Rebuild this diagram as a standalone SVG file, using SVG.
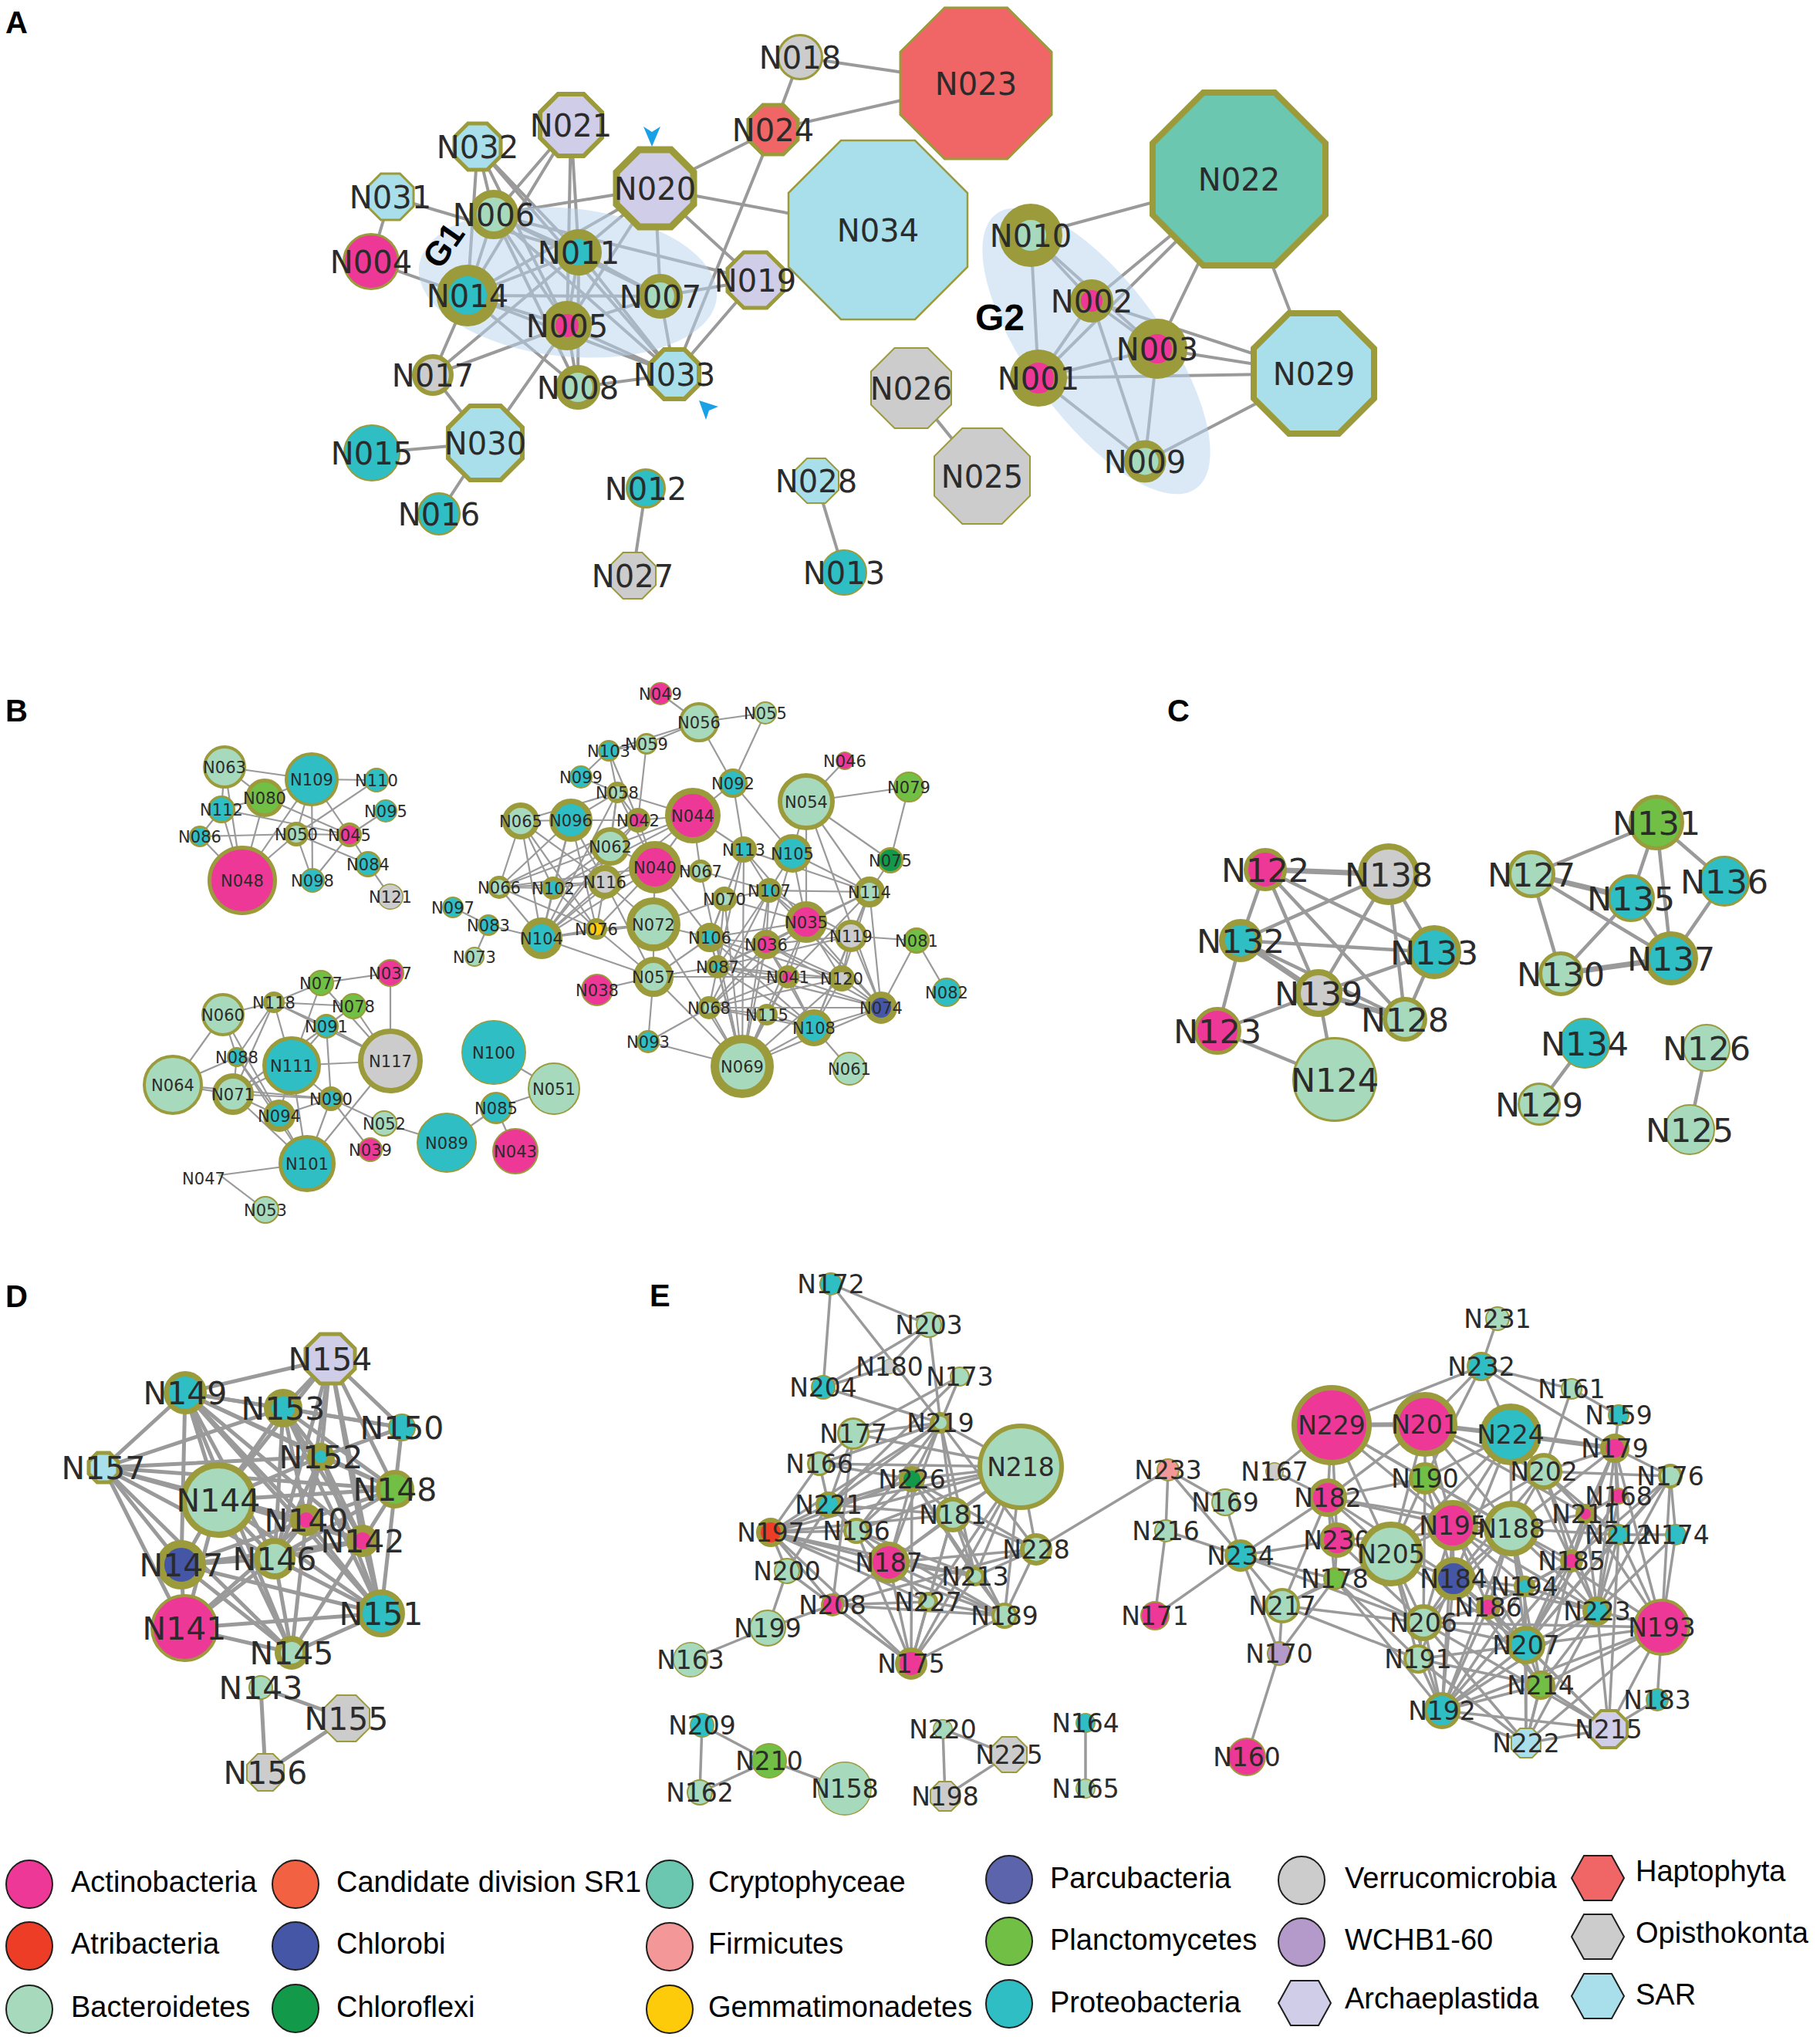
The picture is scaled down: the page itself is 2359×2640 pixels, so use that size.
<svg xmlns="http://www.w3.org/2000/svg" width="2359" height="2640" viewBox="0 0 2359 2640">
<style>
.ea{stroke:#9a9a9a;stroke-width:4;stroke-linecap:round}
.eb{stroke:#9a9a9a;stroke-width:2.2;stroke-linecap:round}
.ec{stroke:#9a9a9a;stroke-width:4.5;stroke-linecap:round}
.ed{stroke:#9a9a9a;stroke-width:5;stroke-linecap:round}
.ee{stroke:#9a9a9a;stroke-width:3.5;stroke-linecap:round}
.n{stroke:#9b9b3b}
.act{fill:#ee3897}.atr{fill:#ee3d26}.bac{fill:#a7d9bd}.sr1{fill:#f26242}.chb{fill:#4556a6}.chf{fill:#12994a}
.cry{fill:#6bc7b0}.fir{fill:#f39799}.gem{fill:#fecb0a}.par{fill:#5c64ab}.pla{fill:#72bf45}.pro{fill:#2ebec4}
.ver{fill:#cccccc}.wch{fill:#b49aca}.arc{fill:#cfcde8}.hap{fill:#f06667}.opi{fill:#cccccc}.sar{fill:#a8dfea}
.ta{font-family:"DejaVu Sans",sans-serif;font-size:40px;fill:#2b2b2b;text-anchor:middle}
.tb{font-family:"DejaVu Sans",sans-serif;font-size:21px;fill:#2b2b2b;text-anchor:middle}
.tc{font-family:"DejaVu Sans",sans-serif;font-size:43px;fill:#2b2b2b;text-anchor:middle}
.td{font-family:"DejaVu Sans",sans-serif;font-size:41px;fill:#2b2b2b;text-anchor:middle}
.te{font-family:"DejaVu Sans",sans-serif;font-size:33px;fill:#2b2b2b;text-anchor:middle}
.pl{font-family:"Liberation Sans",Arial,sans-serif;font-size:40px;font-weight:bold;fill:#000}
.gl{font-family:"Liberation Sans",Arial,sans-serif;font-weight:bold;fill:#000;text-anchor:middle}
.lg{font-family:"Liberation Sans",Arial,sans-serif;font-size:38px;fill:#000}
.lc{stroke:#1e1e1e;stroke-width:2}
</style>
<rect width="2359" height="2640" fill="#fff"/>

<g id="panel-labels">
<text class="pl" x="7" y="43">A</text>
<text class="pl" x="7" y="935">B</text>
<text class="pl" x="1513" y="935">C</text>
<text class="pl" x="7" y="1694">D</text>
<text class="pl" x="842" y="1693">E</text>
</g>

<g id="connectors">
<g class="ea">
<line x1="506" y1="255" x2="481" y2="339"/><line x1="506" y1="255" x2="750" y2="327"/><line x1="481" y1="339" x2="606" y2="383"/>
<line x1="619" y1="190" x2="640" y2="278"/><line x1="619" y1="190" x2="750" y2="327"/><line x1="619" y1="190" x2="606" y2="383"/>
<line x1="619" y1="190" x2="735" y2="422"/><line x1="619" y1="190" x2="874" y2="485"/><line x1="640" y1="278" x2="979" y2="363"/>
<line x1="740" y1="162" x2="640" y2="278"/><line x1="740" y1="162" x2="750" y2="327"/><line x1="740" y1="162" x2="606" y2="383"/>
<line x1="740" y1="162" x2="735" y2="422"/><line x1="849" y1="244" x2="640" y2="278"/><line x1="849" y1="244" x2="1002" y2="168"/>
<line x1="849" y1="244" x2="1138" y2="298"/><line x1="849" y1="244" x2="979" y2="363"/><line x1="849" y1="244" x2="750" y2="327"/>
<line x1="849" y1="244" x2="606" y2="383"/><line x1="849" y1="244" x2="856" y2="384"/><line x1="849" y1="244" x2="735" y2="422"/>
<line x1="1002" y1="168" x2="1037" y2="74"/><line x1="1002" y1="168" x2="1265" y2="108"/><line x1="1002" y1="168" x2="874" y2="485"/>
<line x1="1037" y1="74" x2="1265" y2="108"/>
<line x1="640" y1="278" x2="750" y2="327"/><line x1="640" y1="278" x2="606" y2="383"/><line x1="640" y1="278" x2="856" y2="384"/>
<line x1="640" y1="278" x2="735" y2="422"/><line x1="640" y1="278" x2="749" y2="502"/><line x1="640" y1="278" x2="874" y2="485"/>
<line x1="750" y1="327" x2="606" y2="383"/><line x1="750" y1="327" x2="856" y2="384"/><line x1="750" y1="327" x2="735" y2="422"/>
<line x1="750" y1="327" x2="749" y2="502"/><line x1="750" y1="327" x2="874" y2="485"/><line x1="750" y1="327" x2="561" y2="486"/>
<line x1="606" y1="383" x2="856" y2="384"/><line x1="606" y1="383" x2="735" y2="422"/><line x1="606" y1="383" x2="749" y2="502"/>
<line x1="606" y1="383" x2="874" y2="485"/><line x1="606" y1="383" x2="561" y2="486"/>
<line x1="856" y1="384" x2="735" y2="422"/><line x1="856" y1="384" x2="874" y2="485"/><line x1="856" y1="384" x2="979" y2="363"/>
<line x1="735" y1="422" x2="749" y2="502"/><line x1="735" y1="422" x2="874" y2="485"/><line x1="735" y1="422" x2="561" y2="486"/>
<line x1="735" y1="422" x2="629" y2="574"/><line x1="749" y1="502" x2="874" y2="485"/><line x1="561" y1="486" x2="629" y2="574"/>
<line x1="482" y1="587" x2="629" y2="574"/><line x1="569" y1="666" x2="629" y2="574"/><line x1="979" y1="363" x2="874" y2="485"/>
<line x1="837" y1="633" x2="820" y2="746"/><line x1="1058" y1="623" x2="1094" y2="742"/><line x1="1181" y1="503" x2="1273" y2="617"/>
<line x1="1336" y1="305" x2="1606" y2="232"/><line x1="1336" y1="305" x2="1415" y2="390"/><line x1="1336" y1="305" x2="1346" y2="490"/>
<line x1="1336" y1="305" x2="1500" y2="452"/><line x1="1415" y1="390" x2="1606" y2="232"/><line x1="1500" y1="452" x2="1606" y2="232"/>
<line x1="1346" y1="490" x2="1606" y2="232"/><line x1="1606" y1="232" x2="1703" y2="484"/><line x1="1500" y1="452" x2="1703" y2="484"/>
<line x1="1415" y1="390" x2="1703" y2="484"/><line x1="1346" y1="490" x2="1703" y2="484"/><line x1="1346" y1="490" x2="1415" y2="390"/>
<line x1="1346" y1="490" x2="1500" y2="452"/><line x1="1346" y1="490" x2="1484" y2="598"/><line x1="1415" y1="390" x2="1484" y2="598"/>
<line x1="1500" y1="452" x2="1484" y2="598"/><line x1="1484" y1="598" x2="1703" y2="484"/><line x1="1415" y1="390" x2="1500" y2="452"/>
</g>
<g class="eb">
<line x1="291" y1="994" x2="404" y2="1010"/><line x1="291" y1="994" x2="343" y2="1034"/><line x1="291" y1="994" x2="287" y2="1049"/>
<line x1="291" y1="994" x2="314" y2="1141"/><line x1="404" y1="1010" x2="488" y2="1011"/><line x1="404" y1="1010" x2="343" y2="1034"/>
<line x1="404" y1="1010" x2="384" y2="1081"/><line x1="404" y1="1010" x2="314" y2="1141"/><line x1="404" y1="1010" x2="453" y2="1082"/>
<line x1="404" y1="1010" x2="405" y2="1141"/><line x1="343" y1="1034" x2="287" y2="1049"/><line x1="343" y1="1034" x2="314" y2="1141"/>
<line x1="343" y1="1034" x2="453" y2="1082"/><line x1="287" y1="1049" x2="259" y2="1084"/><line x1="287" y1="1049" x2="314" y2="1141"/>
<line x1="287" y1="1049" x2="453" y2="1082"/><line x1="259" y1="1084" x2="384" y2="1081"/><line x1="259" y1="1084" x2="314" y2="1141"/>
<line x1="384" y1="1081" x2="453" y2="1082"/><line x1="384" y1="1081" x2="405" y2="1141"/><line x1="384" y1="1081" x2="314" y2="1141"/>
<line x1="384" y1="1081" x2="477" y2="1120"/><line x1="488" y1="1011" x2="384" y2="1081"/><line x1="453" y1="1082" x2="500" y2="1051"/>
<line x1="453" y1="1082" x2="477" y2="1120"/><line x1="453" y1="1082" x2="405" y2="1141"/><line x1="477" y1="1120" x2="506" y2="1162"/>
<line x1="506" y1="1261" x2="416" y2="1274"/><line x1="506" y1="1261" x2="506" y2="1375"/><line x1="416" y1="1274" x2="355" y2="1299"/>
<line x1="416" y1="1274" x2="378" y2="1381"/><line x1="416" y1="1274" x2="506" y2="1375"/><line x1="355" y1="1299" x2="458" y2="1304"/>
<line x1="355" y1="1299" x2="289" y2="1315"/><line x1="355" y1="1299" x2="423" y2="1330"/><line x1="355" y1="1299" x2="307" y2="1370"/>
<line x1="355" y1="1299" x2="378" y2="1381"/><line x1="355" y1="1299" x2="302" y2="1418"/><line x1="355" y1="1299" x2="506" y2="1375"/>
<line x1="458" y1="1304" x2="423" y2="1330"/><line x1="458" y1="1304" x2="506" y2="1375"/><line x1="289" y1="1315" x2="224" y2="1406"/>
<line x1="289" y1="1315" x2="307" y2="1370"/><line x1="289" y1="1315" x2="362" y2="1446"/><line x1="423" y1="1330" x2="378" y2="1381"/>
<line x1="423" y1="1330" x2="429" y2="1424"/><line x1="423" y1="1330" x2="506" y2="1375"/><line x1="423" y1="1330" x2="302" y2="1418"/>
<line x1="307" y1="1370" x2="302" y2="1418"/><line x1="307" y1="1370" x2="224" y2="1406"/><line x1="307" y1="1370" x2="398" y2="1508"/>
<line x1="307" y1="1370" x2="362" y2="1446"/><line x1="378" y1="1381" x2="506" y2="1375"/><line x1="378" y1="1381" x2="302" y2="1418"/>
<line x1="378" y1="1381" x2="362" y2="1446"/><line x1="378" y1="1381" x2="429" y2="1424"/><line x1="378" y1="1381" x2="398" y2="1508"/>
<line x1="224" y1="1406" x2="302" y2="1418"/><line x1="224" y1="1406" x2="429" y2="1424"/><line x1="302" y1="1418" x2="362" y2="1446"/>
<line x1="302" y1="1418" x2="429" y2="1424"/><line x1="302" y1="1418" x2="398" y2="1508"/><line x1="362" y1="1446" x2="429" y2="1424"/>
<line x1="362" y1="1446" x2="398" y2="1508"/><line x1="429" y1="1424" x2="398" y2="1508"/><line x1="429" y1="1424" x2="498" y2="1456"/>
<line x1="429" y1="1424" x2="480" y2="1490"/><line x1="506" y1="1375" x2="398" y2="1508"/><line x1="498" y1="1456" x2="579" y2="1481"/>
<line x1="398" y1="1508" x2="285" y2="1523"/><line x1="285" y1="1523" x2="344" y2="1568"/><line x1="579" y1="1481" x2="643" y2="1436"/>
<line x1="643" y1="1436" x2="718" y2="1411"/><line x1="643" y1="1436" x2="668" y2="1492"/><line x1="640" y1="1364" x2="718" y2="1411"/>
<line x1="856" y1="899" x2="906" y2="936"/><line x1="906" y1="936" x2="992" y2="924"/><line x1="906" y1="936" x2="838" y2="964"/>
<line x1="906" y1="936" x2="789" y2="973"/><line x1="906" y1="936" x2="950" y2="1015"/><line x1="992" y1="924" x2="950" y2="1015"/>
<line x1="838" y1="964" x2="789" y2="973"/><line x1="838" y1="964" x2="827" y2="1063"/><line x1="789" y1="973" x2="753" y2="1007"/>
<line x1="789" y1="973" x2="800" y2="1027"/><line x1="789" y1="973" x2="827" y2="1063"/><line x1="753" y1="1007" x2="800" y2="1027"/>
<line x1="800" y1="1027" x2="740" y2="1063"/><line x1="800" y1="1027" x2="675" y2="1064"/><line x1="800" y1="1027" x2="791" y2="1097"/>
<line x1="800" y1="1027" x2="827" y2="1063"/><line x1="800" y1="1027" x2="898" y2="1057"/><line x1="800" y1="1027" x2="849" y2="1124"/>
<line x1="800" y1="1027" x2="702" y2="1216"/><line x1="800" y1="1027" x2="784" y2="1143"/><line x1="950" y1="1015" x2="898" y2="1057"/>
<line x1="950" y1="1015" x2="964" y2="1101"/><line x1="950" y1="1015" x2="1027" y2="1106"/><line x1="1095" y1="986" x2="1045" y2="1039"/>
<line x1="1045" y1="1039" x2="1178" y2="1020"/><line x1="1045" y1="1039" x2="1027" y2="1106"/><line x1="1045" y1="1039" x2="1154" y2="1115"/>
<line x1="1045" y1="1039" x2="1127" y2="1156"/><line x1="1045" y1="1039" x2="1045" y2="1195"/><line x1="1045" y1="1039" x2="1142" y2="1306"/>
<line x1="1178" y1="1020" x2="1154" y2="1115"/><line x1="675" y1="1064" x2="740" y2="1063"/><line x1="675" y1="1064" x2="647" y2="1150"/>
<line x1="675" y1="1064" x2="702" y2="1216"/><line x1="675" y1="1064" x2="784" y2="1143"/><line x1="675" y1="1064" x2="773" y2="1204"/>
<line x1="675" y1="1064" x2="717" y2="1151"/><line x1="740" y1="1063" x2="827" y2="1063"/><line x1="740" y1="1063" x2="647" y2="1150"/>
<line x1="740" y1="1063" x2="702" y2="1216"/><line x1="740" y1="1063" x2="784" y2="1143"/><line x1="740" y1="1063" x2="717" y2="1151"/>
<line x1="740" y1="1063" x2="773" y2="1204"/><line x1="827" y1="1063" x2="898" y2="1057"/><line x1="827" y1="1063" x2="791" y2="1097"/>
<line x1="827" y1="1063" x2="849" y2="1124"/><line x1="827" y1="1063" x2="702" y2="1216"/><line x1="827" y1="1063" x2="647" y2="1150"/>
<line x1="898" y1="1057" x2="849" y2="1124"/><line x1="898" y1="1057" x2="964" y2="1101"/><line x1="898" y1="1057" x2="791" y2="1097"/>
<line x1="898" y1="1057" x2="717" y2="1151"/><line x1="898" y1="1057" x2="908" y2="1129"/><line x1="898" y1="1057" x2="702" y2="1216"/>
<line x1="791" y1="1097" x2="647" y2="1150"/><line x1="791" y1="1097" x2="702" y2="1216"/><line x1="791" y1="1097" x2="784" y2="1143"/>
<line x1="791" y1="1097" x2="849" y2="1124"/><line x1="791" y1="1097" x2="717" y2="1151"/><line x1="849" y1="1124" x2="784" y2="1143"/>
<line x1="849" y1="1124" x2="702" y2="1216"/><line x1="849" y1="1124" x2="847" y2="1198"/><line x1="849" y1="1124" x2="908" y2="1129"/>
<line x1="849" y1="1124" x2="920" y2="1215"/><line x1="849" y1="1124" x2="773" y2="1204"/><line x1="849" y1="1124" x2="647" y2="1150"/>
<line x1="908" y1="1129" x2="997" y2="1154"/><line x1="908" y1="1129" x2="962" y2="1382"/><line x1="964" y1="1101" x2="997" y2="1154"/>
<line x1="964" y1="1101" x2="939" y2="1165"/><line x1="964" y1="1101" x2="1045" y2="1195"/><line x1="964" y1="1101" x2="920" y2="1215"/>
<line x1="964" y1="1101" x2="962" y2="1382"/><line x1="964" y1="1101" x2="1127" y2="1156"/><line x1="964" y1="1101" x2="930" y2="1253"/>
<line x1="1027" y1="1106" x2="997" y2="1154"/><line x1="1027" y1="1106" x2="1127" y2="1156"/><line x1="1027" y1="1106" x2="1045" y2="1195"/>
<line x1="1027" y1="1106" x2="993" y2="1224"/><line x1="1154" y1="1115" x2="1127" y2="1156"/><line x1="647" y1="1150" x2="717" y2="1151"/>
<line x1="647" y1="1150" x2="702" y2="1216"/><line x1="647" y1="1150" x2="784" y2="1143"/><line x1="647" y1="1150" x2="773" y2="1204"/>
<line x1="717" y1="1151" x2="784" y2="1143"/><line x1="717" y1="1151" x2="702" y2="1216"/><line x1="717" y1="1151" x2="773" y2="1204"/>
<line x1="784" y1="1143" x2="702" y2="1216"/><line x1="784" y1="1143" x2="773" y2="1204"/><line x1="784" y1="1143" x2="847" y2="1198"/>
<line x1="784" y1="1143" x2="847" y2="1266"/><line x1="702" y1="1216" x2="633" y2="1199"/><line x1="702" y1="1216" x2="773" y2="1204"/>
<line x1="702" y1="1216" x2="847" y2="1266"/><line x1="702" y1="1216" x2="847" y2="1198"/><line x1="633" y1="1199" x2="587" y2="1176"/>
<line x1="633" y1="1199" x2="615" y2="1240"/><line x1="773" y1="1204" x2="847" y2="1198"/><line x1="773" y1="1204" x2="847" y2="1266"/>
<line x1="847" y1="1198" x2="920" y2="1215"/><line x1="847" y1="1198" x2="847" y2="1266"/><line x1="847" y1="1198" x2="962" y2="1382"/>
<line x1="847" y1="1198" x2="939" y2="1165"/><line x1="939" y1="1165" x2="997" y2="1154"/><line x1="939" y1="1165" x2="1045" y2="1195"/>
<line x1="939" y1="1165" x2="920" y2="1215"/><line x1="939" y1="1165" x2="930" y2="1253"/><line x1="939" y1="1165" x2="962" y2="1382"/>
<line x1="997" y1="1154" x2="1127" y2="1156"/><line x1="997" y1="1154" x2="1045" y2="1195"/><line x1="997" y1="1154" x2="993" y2="1224"/>
<line x1="997" y1="1154" x2="1103" y2="1213"/><line x1="997" y1="1154" x2="1142" y2="1306"/><line x1="997" y1="1154" x2="962" y2="1382"/>
<line x1="997" y1="1154" x2="930" y2="1253"/><line x1="997" y1="1154" x2="919" y2="1306"/><line x1="1127" y1="1156" x2="1045" y2="1195"/>
<line x1="1127" y1="1156" x2="1103" y2="1213"/><line x1="1127" y1="1156" x2="1091" y2="1268"/><line x1="1127" y1="1156" x2="1142" y2="1306"/>
<line x1="1127" y1="1156" x2="1055" y2="1332"/><line x1="1127" y1="1156" x2="1021" y2="1266"/><line x1="1127" y1="1156" x2="993" y2="1224"/>
<line x1="1127" y1="1156" x2="930" y2="1253"/><line x1="1045" y1="1195" x2="1103" y2="1213"/><line x1="1045" y1="1195" x2="993" y2="1224"/>
<line x1="1045" y1="1195" x2="1021" y2="1266"/><line x1="1045" y1="1195" x2="1091" y2="1268"/><line x1="1045" y1="1195" x2="920" y2="1215"/>
<line x1="1045" y1="1195" x2="919" y2="1306"/><line x1="1045" y1="1195" x2="1142" y2="1306"/><line x1="1045" y1="1195" x2="962" y2="1382"/>
<line x1="1103" y1="1213" x2="1188" y2="1219"/><line x1="1103" y1="1213" x2="1091" y2="1268"/><line x1="1103" y1="1213" x2="1142" y2="1306"/>
<line x1="1103" y1="1213" x2="993" y2="1224"/><line x1="1103" y1="1213" x2="930" y2="1253"/><line x1="1103" y1="1213" x2="1055" y2="1332"/>
<line x1="1188" y1="1219" x2="1227" y2="1286"/><line x1="1188" y1="1219" x2="1142" y2="1306"/><line x1="920" y1="1215" x2="993" y2="1224"/>
<line x1="920" y1="1215" x2="930" y2="1253"/><line x1="920" y1="1215" x2="1021" y2="1266"/><line x1="920" y1="1215" x2="962" y2="1382"/>
<line x1="920" y1="1215" x2="1091" y2="1268"/><line x1="920" y1="1215" x2="847" y2="1266"/><line x1="920" y1="1215" x2="1055" y2="1332"/>
<line x1="993" y1="1224" x2="930" y2="1253"/><line x1="993" y1="1224" x2="1021" y2="1266"/><line x1="993" y1="1224" x2="1091" y2="1268"/>
<line x1="993" y1="1224" x2="1055" y2="1332"/><line x1="993" y1="1224" x2="919" y2="1306"/><line x1="993" y1="1224" x2="962" y2="1382"/>
<line x1="993" y1="1224" x2="1142" y2="1306"/><line x1="847" y1="1266" x2="774" y2="1283"/><line x1="847" y1="1266" x2="930" y2="1253"/>
<line x1="847" y1="1266" x2="840" y2="1350"/><line x1="847" y1="1266" x2="1021" y2="1266"/><line x1="847" y1="1266" x2="962" y2="1382"/>
<line x1="930" y1="1253" x2="1021" y2="1266"/><line x1="930" y1="1253" x2="919" y2="1306"/><line x1="930" y1="1253" x2="962" y2="1382"/>
<line x1="930" y1="1253" x2="1091" y2="1268"/><line x1="930" y1="1253" x2="1055" y2="1332"/><line x1="930" y1="1253" x2="1142" y2="1306"/>
<line x1="1021" y1="1266" x2="1091" y2="1268"/><line x1="1021" y1="1266" x2="1055" y2="1332"/><line x1="1021" y1="1266" x2="962" y2="1382"/>
<line x1="1021" y1="1266" x2="919" y2="1306"/><line x1="1021" y1="1266" x2="994" y2="1315"/><line x1="1021" y1="1266" x2="1142" y2="1306"/>
<line x1="1091" y1="1268" x2="1142" y2="1306"/><line x1="1091" y1="1268" x2="1055" y2="1332"/><line x1="1091" y1="1268" x2="919" y2="1306"/>
<line x1="1091" y1="1268" x2="962" y2="1382"/><line x1="919" y1="1306" x2="840" y2="1350"/><line x1="919" y1="1306" x2="962" y2="1382"/>
<line x1="919" y1="1306" x2="1055" y2="1332"/><line x1="919" y1="1306" x2="1142" y2="1306"/><line x1="994" y1="1315" x2="962" y2="1382"/>
<line x1="994" y1="1315" x2="1055" y2="1332"/><line x1="994" y1="1315" x2="919" y2="1306"/><line x1="1055" y1="1332" x2="1142" y2="1306"/>
<line x1="1055" y1="1332" x2="1101" y2="1385"/><line x1="1055" y1="1332" x2="962" y2="1382"/><line x1="1142" y1="1306" x2="962" y2="1382"/>
<line x1="840" y1="1350" x2="962" y2="1382"/>
</g>
<g class="ec">
<line x1="1640" y1="1127" x2="1800" y2="1133" stroke-width="7"/><line x1="1640" y1="1127" x2="1608" y2="1219"/><line x1="1640" y1="1127" x2="1709" y2="1287"/>
<line x1="1640" y1="1127" x2="1859" y2="1234"/><line x1="1640" y1="1127" x2="1821" y2="1321"/><line x1="1800" y1="1133" x2="1608" y2="1219"/>
<line x1="1800" y1="1133" x2="1709" y2="1287"/><line x1="1800" y1="1133" x2="1859" y2="1234"/><line x1="1800" y1="1133" x2="1821" y2="1321"/>
<line x1="1608" y1="1219" x2="1859" y2="1234"/><line x1="1608" y1="1219" x2="1709" y2="1287" stroke-width="7"/><line x1="1608" y1="1219" x2="1821" y2="1321"/>
<line x1="1608" y1="1219" x2="1578" y2="1336"/><line x1="1709" y1="1287" x2="1859" y2="1234"/><line x1="1709" y1="1287" x2="1821" y2="1321" stroke-width="7"/>
<line x1="1709" y1="1287" x2="1578" y2="1336"/><line x1="1709" y1="1287" x2="1730" y2="1399"/><line x1="1578" y1="1336" x2="1730" y2="1399"/>
<line x1="1859" y1="1234" x2="1821" y2="1321"/>
<line x1="1985" y1="1133" x2="2147" y2="1066"/><line x1="1985" y1="1133" x2="2114" y2="1164" stroke-width="7"/><line x1="1985" y1="1133" x2="2166" y2="1242"/>
<line x1="1985" y1="1133" x2="2023" y2="1262"/><line x1="2147" y1="1066" x2="2114" y2="1164"/><line x1="2147" y1="1066" x2="2166" y2="1242"/>
<line x1="2147" y1="1066" x2="2235" y2="1142"/><line x1="2114" y1="1164" x2="2166" y2="1242"/><line x1="2114" y1="1164" x2="2023" y2="1262"/>
<line x1="2235" y1="1142" x2="2166" y2="1242"/><line x1="2023" y1="1262" x2="2166" y2="1242" stroke-width="7"/>
<line x1="2054" y1="1352" x2="1995" y2="1431"/><line x1="2212" y1="1358" x2="2190" y2="1464"/>
</g>
<g class="ed">
<line x1="428" y1="1761" x2="240" y2="1805"/><line x1="428" y1="1761" x2="367" y2="1825"/><line x1="428" y1="1761" x2="521" y2="1850"/>
<line x1="428" y1="1761" x2="416" y2="1888"/><line x1="428" y1="1761" x2="512" y2="1930"/><line x1="428" y1="1761" x2="494" y2="2091"/>
<line x1="428" y1="1761" x2="470" y2="1997"/><line x1="428" y1="1761" x2="397" y2="1970"/><line x1="428" y1="1761" x2="356" y2="2020"/>
<line x1="428" y1="1761" x2="283" y2="1944"/><line x1="240" y1="1805" x2="367" y2="1825"/><line x1="240" y1="1805" x2="134" y2="1902"/>
<line x1="240" y1="1805" x2="283" y2="1944"/><line x1="240" y1="1805" x2="521" y2="1850"/><line x1="240" y1="1805" x2="416" y2="1888"/>
<line x1="240" y1="1805" x2="512" y2="1930"/><line x1="240" y1="1805" x2="397" y2="1970"/><line x1="240" y1="1805" x2="470" y2="1997"/>
<line x1="240" y1="1805" x2="356" y2="2020"/><line x1="240" y1="1805" x2="494" y2="2091"/><line x1="240" y1="1805" x2="235" y2="2028"/>
<line x1="240" y1="1805" x2="378" y2="2142"/><line x1="367" y1="1825" x2="134" y2="1902"/><line x1="367" y1="1825" x2="416" y2="1888"/>
<line x1="367" y1="1825" x2="512" y2="1930"/><line x1="367" y1="1825" x2="397" y2="1970"/><line x1="367" y1="1825" x2="470" y2="1997"/>
<line x1="367" y1="1825" x2="356" y2="2020"/><line x1="367" y1="1825" x2="494" y2="2091"/><line x1="367" y1="1825" x2="283" y2="1944"/>
<line x1="367" y1="1825" x2="521" y2="1850"/><line x1="521" y1="1850" x2="416" y2="1888"/><line x1="521" y1="1850" x2="512" y2="1930"/>
<line x1="134" y1="1902" x2="283" y2="1944"/><line x1="134" y1="1902" x2="416" y2="1888"/><line x1="134" y1="1902" x2="235" y2="2028"/>
<line x1="134" y1="1902" x2="239" y2="2110"/><line x1="134" y1="1902" x2="356" y2="2020"/><line x1="134" y1="1902" x2="378" y2="2142"/>
<line x1="134" y1="1902" x2="397" y2="1970"/><line x1="134" y1="1902" x2="512" y2="1930"/><line x1="416" y1="1888" x2="283" y2="1944"/>
<line x1="416" y1="1888" x2="512" y2="1930"/><line x1="416" y1="1888" x2="397" y2="1970"/><line x1="416" y1="1888" x2="470" y2="1997"/>
<line x1="416" y1="1888" x2="356" y2="2020"/><line x1="416" y1="1888" x2="494" y2="2091"/><line x1="283" y1="1944" x2="512" y2="1930"/>
<line x1="283" y1="1944" x2="397" y2="1970"/><line x1="283" y1="1944" x2="470" y2="1997"/><line x1="283" y1="1944" x2="235" y2="2028"/>
<line x1="283" y1="1944" x2="356" y2="2020"/><line x1="283" y1="1944" x2="239" y2="2110"/><line x1="283" y1="1944" x2="378" y2="2142"/>
<line x1="283" y1="1944" x2="494" y2="2091"/><line x1="512" y1="1930" x2="397" y2="1970"/><line x1="512" y1="1930" x2="470" y2="1997"/>
<line x1="512" y1="1930" x2="494" y2="2091"/><line x1="512" y1="1930" x2="356" y2="2020"/><line x1="397" y1="1970" x2="470" y2="1997"/>
<line x1="397" y1="1970" x2="356" y2="2020"/><line x1="397" y1="1970" x2="235" y2="2028"/><line x1="397" y1="1970" x2="494" y2="2091"/>
<line x1="397" y1="1970" x2="378" y2="2142"/><line x1="397" y1="1970" x2="239" y2="2110"/><line x1="470" y1="1997" x2="356" y2="2020"/>
<line x1="470" y1="1997" x2="494" y2="2091"/><line x1="470" y1="1997" x2="378" y2="2142"/><line x1="470" y1="1997" x2="235" y2="2028"/>
<line x1="235" y1="2028" x2="356" y2="2020"/><line x1="235" y1="2028" x2="239" y2="2110"/><line x1="235" y1="2028" x2="378" y2="2142"/>
<line x1="235" y1="2028" x2="494" y2="2091"/><line x1="356" y1="2020" x2="239" y2="2110"/><line x1="356" y1="2020" x2="378" y2="2142"/>
<line x1="356" y1="2020" x2="494" y2="2091"/><line x1="239" y1="2110" x2="378" y2="2142"/><line x1="239" y1="2110" x2="494" y2="2091"/>
<line x1="378" y1="2142" x2="494" y2="2091"/><line x1="338" y1="2187" x2="449" y2="2227"/><line x1="338" y1="2187" x2="344" y2="2297"/>
<line x1="449" y1="2227" x2="344" y2="2297"/>
</g>
<g class="ee">
<line x1="1077" y1="1664" x2="1204" y2="1717"/><line x1="1077" y1="1664" x2="1067" y2="1798"/><line x1="1077" y1="1664" x2="1219" y2="1844"/>
<line x1="1204" y1="1717" x2="1067" y2="1798"/><line x1="1204" y1="1717" x2="1153" y2="1771"/><line x1="1204" y1="1717" x2="1219" y2="1844"/>
<line x1="1067" y1="1798" x2="1153" y2="1771"/><line x1="1067" y1="1798" x2="1219" y2="1844"/><line x1="1244" y1="1784" x2="1219" y2="1844"/>
<line x1="1244" y1="1784" x2="1106" y2="1858"/><line x1="1244" y1="1784" x2="1074" y2="1950"/><line x1="1219" y1="1844" x2="1106" y2="1858"/>
<line x1="1219" y1="1844" x2="1062" y2="1897"/><line x1="1219" y1="1844" x2="1182" y2="1917"/><line x1="1219" y1="1844" x2="1323" y2="1901"/>
<line x1="1219" y1="1844" x2="1074" y2="1950"/><line x1="1219" y1="1844" x2="999" y2="1986"/><line x1="1219" y1="1844" x2="1110" y2="1984"/>
<line x1="1219" y1="1844" x2="1235" y2="1963"/><line x1="1219" y1="1844" x2="1152" y2="2025"/><line x1="1219" y1="1844" x2="1343" y2="2008"/>
<line x1="1219" y1="1844" x2="1264" y2="2043"/><line x1="1106" y1="1858" x2="1062" y2="1897"/><line x1="1106" y1="1858" x2="1323" y2="1901"/>
<line x1="1106" y1="1858" x2="1074" y2="1950"/><line x1="1106" y1="1858" x2="1079" y2="2080"/><line x1="1062" y1="1897" x2="1182" y2="1917"/>
<line x1="1062" y1="1897" x2="1323" y2="1901"/><line x1="1062" y1="1897" x2="999" y2="1986"/><line x1="1062" y1="1897" x2="1074" y2="1950"/>
<line x1="1182" y1="1917" x2="1323" y2="1901"/><line x1="1182" y1="1917" x2="999" y2="1986"/><line x1="1182" y1="1917" x2="1074" y2="1950"/>
<line x1="1182" y1="1917" x2="1110" y2="1984"/><line x1="1182" y1="1917" x2="1235" y2="1963"/><line x1="1182" y1="1917" x2="1152" y2="2025"/>
<line x1="1182" y1="1917" x2="1264" y2="2043"/><line x1="1182" y1="1917" x2="1181" y2="2156"/><line x1="1182" y1="1917" x2="1343" y2="2008"/>
<line x1="1182" y1="1917" x2="1302" y2="2094"/><line x1="1074" y1="1950" x2="1323" y2="1901"/><line x1="1074" y1="1950" x2="999" y2="1986"/>
<line x1="1074" y1="1950" x2="1110" y2="1984"/><line x1="1074" y1="1950" x2="1152" y2="2025"/><line x1="1074" y1="1950" x2="1235" y2="1963"/>
<line x1="1074" y1="1950" x2="1020" y2="2036"/><line x1="999" y1="1986" x2="1323" y2="1901"/><line x1="999" y1="1986" x2="1110" y2="1984"/>
<line x1="999" y1="1986" x2="1152" y2="2025"/><line x1="999" y1="1986" x2="1020" y2="2036"/><line x1="999" y1="1986" x2="1079" y2="2080"/>
<line x1="999" y1="1986" x2="1203" y2="2076"/><line x1="999" y1="1986" x2="1264" y2="2043"/><line x1="999" y1="1986" x2="1181" y2="2156"/>
<line x1="999" y1="1986" x2="1302" y2="2094"/><line x1="999" y1="1986" x2="1235" y2="1963"/><line x1="1110" y1="1984" x2="1323" y2="1901"/>
<line x1="1110" y1="1984" x2="1152" y2="2025"/><line x1="1110" y1="1984" x2="1264" y2="2043"/><line x1="1110" y1="1984" x2="1302" y2="2094"/>
<line x1="1110" y1="1984" x2="1181" y2="2156"/><line x1="1235" y1="1963" x2="1323" y2="1901"/><line x1="1235" y1="1963" x2="1152" y2="2025"/>
<line x1="1235" y1="1963" x2="1264" y2="2043"/><line x1="1235" y1="1963" x2="1302" y2="2094"/><line x1="1235" y1="1963" x2="1203" y2="2076"/>
<line x1="1235" y1="1963" x2="1181" y2="2156"/><line x1="1235" y1="1963" x2="1343" y2="2008"/><line x1="1323" y1="1901" x2="1343" y2="2008"/>
<line x1="1323" y1="1901" x2="1152" y2="2025"/><line x1="1323" y1="1901" x2="1264" y2="2043"/><line x1="1323" y1="1901" x2="1302" y2="2094"/>
<line x1="1323" y1="1901" x2="1203" y2="2076"/><line x1="1323" y1="1901" x2="1181" y2="2156"/><line x1="1343" y1="2008" x2="1264" y2="2043"/>
<line x1="1343" y1="2008" x2="1302" y2="2094"/><line x1="1343" y1="2008" x2="1152" y2="2025"/><line x1="1343" y1="2008" x2="1079" y2="2080"/>
<line x1="1152" y1="2025" x2="1079" y2="2080"/><line x1="1152" y1="2025" x2="1203" y2="2076"/><line x1="1152" y1="2025" x2="1181" y2="2156"/>
<line x1="1152" y1="2025" x2="1264" y2="2043"/><line x1="1152" y1="2025" x2="1302" y2="2094"/><line x1="1020" y1="2036" x2="995" y2="2110"/>
<line x1="1079" y1="2080" x2="995" y2="2110"/><line x1="1079" y1="2080" x2="1203" y2="2076"/><line x1="1079" y1="2080" x2="1181" y2="2156"/>
<line x1="1079" y1="2080" x2="1302" y2="2094"/><line x1="1203" y1="2076" x2="1181" y2="2156"/><line x1="1203" y1="2076" x2="1302" y2="2094"/>
<line x1="1264" y1="2043" x2="1181" y2="2156"/><line x1="1264" y1="2043" x2="1302" y2="2094"/><line x1="1302" y1="2094" x2="1181" y2="2156"/>
<line x1="995" y1="2110" x2="895" y2="2151"/><line x1="1020" y1="2036" x2="1181" y2="2156"/><line x1="1343" y1="2008" x2="1514" y2="1905"/>
<line x1="910" y1="2236" x2="997" y2="2282"/><line x1="910" y1="2236" x2="907" y2="2323"/><line x1="907" y1="2323" x2="997" y2="2282"/>
<line x1="997" y1="2282" x2="1095" y2="2318"/><line x1="1222" y1="2241" x2="1308" y2="2274"/><line x1="1222" y1="2241" x2="1225" y2="2328"/>
<line x1="1308" y1="2274" x2="1225" y2="2328"/><line x1="1407" y1="2233" x2="1407" y2="2318"/>
<line x1="1514" y1="1905" x2="1511" y2="1984"/><line x1="1514" y1="1905" x2="1588" y2="1947"/><line x1="1514" y1="1905" x2="1608" y2="2016"/>
<line x1="1511" y1="1984" x2="1608" y2="2016"/><line x1="1511" y1="1984" x2="1497" y2="2094"/><line x1="1608" y1="2016" x2="1497" y2="2094"/>
<line x1="1608" y1="2016" x2="1588" y2="1947"/><line x1="1608" y1="2016" x2="1721" y2="1941"/><line x1="1608" y1="2016" x2="1733" y2="1996"/>
<line x1="1608" y1="2016" x2="1662" y2="2081"/><line x1="1608" y1="2016" x2="1730" y2="2046"/><line x1="1608" y1="2016" x2="1658" y2="2143"/>
<line x1="1608" y1="2016" x2="1845" y2="2103"/><line x1="1662" y1="2081" x2="1730" y2="2046"/><line x1="1662" y1="2081" x2="1658" y2="2143"/>
<line x1="1662" y1="2081" x2="1845" y2="2103"/><line x1="1662" y1="2081" x2="1838" y2="2150"/><line x1="1662" y1="2081" x2="1721" y2="1941"/>
<line x1="1730" y1="2046" x2="1658" y2="2143"/><line x1="1730" y1="2046" x2="1869" y2="2217"/><line x1="1658" y1="2143" x2="1616" y2="2277"/>
<line x1="1652" y1="1907" x2="1721" y2="1941"/><line x1="1652" y1="1907" x2="1726" y2="1847"/><line x1="1941" y1="1709" x2="1920" y2="1771"/>
<line x1="1920" y1="1771" x2="1726" y2="1847"/><line x1="1920" y1="1771" x2="1847" y2="1846"/><line x1="1920" y1="1771" x2="1958" y2="1859"/>
<line x1="1920" y1="1771" x2="2037" y2="1800"/><line x1="1920" y1="1771" x2="2093" y2="1877"/><line x1="1920" y1="1771" x2="1847" y2="1916"/>
<line x1="2037" y1="1800" x2="2098" y2="1834"/><line x1="2037" y1="1800" x2="2001" y2="1907"/><line x1="2098" y1="1834" x2="2093" y2="1877"/>
<line x1="1726" y1="1847" x2="1847" y2="1846" stroke-width="6"/><line x1="1726" y1="1847" x2="1721" y2="1941"/><line x1="1726" y1="1847" x2="1847" y2="1916"/>
<line x1="1726" y1="1847" x2="1883" y2="1977"/><line x1="1726" y1="1847" x2="1733" y2="1996"/><line x1="1726" y1="1847" x2="1803" y2="2014"/>
<line x1="1726" y1="1847" x2="1959" y2="1981"/><line x1="1847" y1="1846" x2="1958" y2="1859" stroke-width="6"/><line x1="1847" y1="1846" x2="1847" y2="1916"/>
<line x1="1847" y1="1846" x2="1883" y2="1977"/><line x1="1847" y1="1846" x2="1959" y2="1981"/><line x1="1847" y1="1846" x2="1721" y2="1941"/>
<line x1="1847" y1="1846" x2="2001" y2="1907"/><line x1="1847" y1="1846" x2="2093" y2="1877"/><line x1="1847" y1="1846" x2="1803" y2="2014"/>
<line x1="1847" y1="1846" x2="2055" y2="1962"/><line x1="1958" y1="1859" x2="2093" y2="1877" stroke-width="6"/><line x1="1958" y1="1859" x2="2001" y2="1907"/>
<line x1="1958" y1="1859" x2="1959" y2="1981"/><line x1="1958" y1="1859" x2="1883" y2="1977"/><line x1="1958" y1="1859" x2="1847" y2="1916"/>
<line x1="1958" y1="1859" x2="2055" y2="1962"/><line x1="1958" y1="1859" x2="1884" y2="2046"/><line x1="1958" y1="1859" x2="1803" y2="2014"/>
<line x1="1958" y1="1859" x2="2037" y2="2023"/><line x1="2093" y1="1877" x2="2165" y2="1913"/><line x1="2093" y1="1877" x2="2001" y2="1907"/>
<line x1="2093" y1="1877" x2="2098" y2="1939"/><line x1="2093" y1="1877" x2="2055" y2="1962"/><line x1="2093" y1="1877" x2="2098" y2="1989"/>
<line x1="2093" y1="1877" x2="2070" y2="2088"/><line x1="2093" y1="1877" x2="2154" y2="2109"/><line x1="2093" y1="1877" x2="1959" y2="1981"/>
<line x1="2093" y1="1877" x2="2037" y2="2023"/><line x1="2165" y1="1913" x2="2172" y2="1989"/><line x1="2165" y1="1913" x2="2154" y2="2109"/>
<line x1="2165" y1="1913" x2="2070" y2="2088"/><line x1="2165" y1="1913" x2="2037" y2="2023"/><line x1="2165" y1="1913" x2="2098" y2="1989"/>
<line x1="2165" y1="1913" x2="2001" y2="1907"/><line x1="2165" y1="1913" x2="1978" y2="2132"/><line x1="2001" y1="1907" x2="1959" y2="1981"/>
<line x1="2001" y1="1907" x2="1883" y2="1977"/><line x1="2001" y1="1907" x2="2055" y2="1962"/><line x1="2001" y1="1907" x2="2098" y2="1989"/>
<line x1="2001" y1="1907" x2="2037" y2="2023"/><line x1="2001" y1="1907" x2="2070" y2="2088"/><line x1="2001" y1="1907" x2="1884" y2="2046"/>
<line x1="1847" y1="1916" x2="1721" y2="1941"/><line x1="1847" y1="1916" x2="1883" y2="1977"/><line x1="1847" y1="1916" x2="1959" y2="1981"/>
<line x1="1847" y1="1916" x2="1803" y2="2014"/><line x1="1847" y1="1916" x2="1884" y2="2046"/><line x1="1847" y1="1916" x2="1845" y2="2103"/>
<line x1="1721" y1="1941" x2="1733" y2="1996"/><line x1="1721" y1="1941" x2="1803" y2="2014"/><line x1="1721" y1="1941" x2="1883" y2="1977"/>
<line x1="1721" y1="1941" x2="1730" y2="2046"/><line x1="1721" y1="1941" x2="1884" y2="2046"/><line x1="1721" y1="1941" x2="1959" y2="1981"/>
<line x1="1883" y1="1977" x2="1959" y2="1981"/><line x1="1883" y1="1977" x2="1803" y2="2014"/><line x1="1883" y1="1977" x2="1884" y2="2046"/>
<line x1="1883" y1="1977" x2="1976" y2="2056"/><line x1="1883" y1="1977" x2="1929" y2="2083"/><line x1="1883" y1="1977" x2="1845" y2="2103"/>
<line x1="1883" y1="1977" x2="1978" y2="2132"/><line x1="1883" y1="1977" x2="1869" y2="2217"/><line x1="1883" y1="1977" x2="2070" y2="2088"/>
<line x1="1959" y1="1981" x2="2055" y2="1962"/><line x1="1959" y1="1981" x2="2037" y2="2023"/><line x1="1959" y1="1981" x2="1884" y2="2046"/>
<line x1="1959" y1="1981" x2="1976" y2="2056"/><line x1="1959" y1="1981" x2="2070" y2="2088"/><line x1="1959" y1="1981" x2="1978" y2="2132"/>
<line x1="1959" y1="1981" x2="2098" y2="1989"/><line x1="1959" y1="1981" x2="1997" y2="2184"/><line x1="1959" y1="1981" x2="1845" y2="2103"/>
<line x1="1959" y1="1981" x2="1929" y2="2083"/><line x1="1959" y1="1981" x2="1869" y2="2217"/><line x1="1959" y1="1981" x2="2154" y2="2109"/>
<line x1="2055" y1="1962" x2="2098" y2="1939"/><line x1="2055" y1="1962" x2="2098" y2="1989"/><line x1="2055" y1="1962" x2="2037" y2="2023"/>
<line x1="2055" y1="1962" x2="2070" y2="2088"/><line x1="2055" y1="1962" x2="1978" y2="2132"/><line x1="2055" y1="1962" x2="2154" y2="2109"/>
<line x1="2098" y1="1989" x2="2172" y2="1989"/><line x1="2098" y1="1989" x2="2070" y2="2088"/><line x1="2098" y1="1989" x2="2154" y2="2109"/>
<line x1="2098" y1="1989" x2="1978" y2="2132"/><line x1="2098" y1="1989" x2="2085" y2="2241"/><line x1="2098" y1="1939" x2="2070" y2="2088"/>
<line x1="2098" y1="1939" x2="1978" y2="2132"/><line x1="2037" y1="2023" x2="1976" y2="2056"/><line x1="2037" y1="2023" x2="2070" y2="2088"/>
<line x1="2037" y1="2023" x2="1978" y2="2132"/><line x1="2037" y1="2023" x2="1869" y2="2217"/><line x1="2037" y1="2023" x2="1929" y2="2083"/>
<line x1="2037" y1="2023" x2="1978" y2="2259"/><line x1="1733" y1="1996" x2="1803" y2="2014"/><line x1="1733" y1="1996" x2="1730" y2="2046"/>
<line x1="1733" y1="1996" x2="1845" y2="2103"/><line x1="1733" y1="1996" x2="1959" y2="1981"/><line x1="1803" y1="2014" x2="1884" y2="2046"/>
<line x1="1803" y1="2014" x2="1845" y2="2103"/><line x1="1803" y1="2014" x2="1838" y2="2150"/><line x1="1803" y1="2014" x2="1730" y2="2046"/>
<line x1="1803" y1="2014" x2="1662" y2="2081"/><line x1="1803" y1="2014" x2="1869" y2="2217"/><line x1="1803" y1="2014" x2="1978" y2="2132"/>
<line x1="1884" y1="2046" x2="1976" y2="2056"/><line x1="1884" y1="2046" x2="1929" y2="2083"/><line x1="1884" y1="2046" x2="1845" y2="2103"/>
<line x1="1884" y1="2046" x2="1978" y2="2132"/><line x1="1884" y1="2046" x2="1838" y2="2150"/><line x1="1884" y1="2046" x2="1869" y2="2217"/>
<line x1="1884" y1="2046" x2="2070" y2="2088"/><line x1="1884" y1="2046" x2="1997" y2="2184"/><line x1="1976" y1="2056" x2="1929" y2="2083"/>
<line x1="1976" y1="2056" x2="1978" y2="2132"/><line x1="1976" y1="2056" x2="2070" y2="2088"/><line x1="1976" y1="2056" x2="1869" y2="2217"/>
<line x1="1976" y1="2056" x2="1978" y2="2259"/><line x1="1929" y1="2083" x2="1845" y2="2103"/><line x1="1929" y1="2083" x2="1978" y2="2132"/>
<line x1="1929" y1="2083" x2="1869" y2="2217"/><line x1="1929" y1="2083" x2="1997" y2="2184"/><line x1="1929" y1="2083" x2="2085" y2="2241"/>
<line x1="2070" y1="2088" x2="2154" y2="2109"/><line x1="2070" y1="2088" x2="1978" y2="2132"/><line x1="2070" y1="2088" x2="1997" y2="2184"/>
<line x1="2070" y1="2088" x2="2085" y2="2241"/><line x1="2070" y1="2088" x2="1978" y2="2259"/><line x1="2070" y1="2088" x2="1869" y2="2217"/>
<line x1="2154" y1="2109" x2="1978" y2="2132"/><line x1="2154" y1="2109" x2="1997" y2="2184"/><line x1="2154" y1="2109" x2="2148" y2="2203"/>
<line x1="2154" y1="2109" x2="1869" y2="2217"/><line x1="2154" y1="2109" x2="1978" y2="2259"/><line x1="2154" y1="2109" x2="2085" y2="2241"/>
<line x1="2172" y1="1989" x2="2154" y2="2109"/><line x1="2172" y1="1989" x2="2070" y2="2088"/><line x1="1845" y1="2103" x2="1838" y2="2150"/>
<line x1="1845" y1="2103" x2="1869" y2="2217"/><line x1="1845" y1="2103" x2="1978" y2="2132"/><line x1="1845" y1="2103" x2="2085" y2="2241"/>
<line x1="1845" y1="2103" x2="1978" y2="2259"/><line x1="1845" y1="2103" x2="2154" y2="2109"/><line x1="1978" y1="2132" x2="1997" y2="2184"/>
<line x1="1978" y1="2132" x2="1869" y2="2217"/><line x1="1978" y1="2132" x2="1978" y2="2259"/><line x1="1978" y1="2132" x2="2085" y2="2241"/>
<line x1="1838" y1="2150" x2="1869" y2="2217"/><line x1="1838" y1="2150" x2="1997" y2="2184"/><line x1="1838" y1="2150" x2="1978" y2="2259"/>
<line x1="1838" y1="2150" x2="1978" y2="2132"/><line x1="1997" y1="2184" x2="1869" y2="2217"/><line x1="1997" y1="2184" x2="1978" y2="2259"/>
<line x1="1997" y1="2184" x2="2085" y2="2241"/><line x1="1869" y1="2217" x2="1978" y2="2259"/><line x1="1869" y1="2217" x2="2085" y2="2241"/>
<line x1="1978" y1="2259" x2="2085" y2="2241"/><line x1="2148" y1="2203" x2="2085" y2="2241"/><line x1="1730" y1="2046" x2="1845" y2="2103"/>
<line x1="1730" y1="2046" x2="1838" y2="2150"/>
</g>
</g>

<g id="group-shading">
<ellipse cx="736" cy="366" rx="194" ry="96" transform="rotate(6 736 366)" fill="#b8d4f0" fill-opacity="0.5"/>
<ellipse cx="1421" cy="455" rx="220" ry="88" transform="rotate(54 1421 455)" fill="#b8d4f0" fill-opacity="0.5"/>
</g>

<g id="nodes-A">
<g id="N021"><polygon class="n arc" stroke-width="6" points="723.4,122 756.6,122 780,145.4 780,178.6 756.6,202 723.4,202 700,178.6 700,145.4"/><text class="ta" x="740" y="176.5">N021</text></g>
<g id="N032"><polygon class="n sar" stroke-width="5" points="606.6,160 631.4,160 649,177.6 649,202.4 631.4,220 606.6,220 589,202.4 589,177.6"/><text class="ta" x="619" y="204.5">N032</text></g>
<g id="N031"><polygon class="n sar" stroke-width="3" points="493.6,225 518.4,225 536,242.6 536,267.4 518.4,285 493.6,285 476,267.4 476,242.6"/><text class="ta" x="506" y="269.5">N031</text></g>
<g id="N020"><polygon class="n arc" stroke-width="9" points="828.3,194 869.7,194 899,223.3 899,264.7 869.7,294 828.3,294 799,264.7 799,223.3"/><text class="ta" x="849" y="258.5">N020</text></g>
<g id="N024"><polygon class="n hap" stroke-width="5" points="988.8,136 1015.2,136 1034,154.8 1034,181.2 1015.2,200 988.8,200 970,181.2 970,154.8"/><text class="ta" x="1002" y="182.5">N024</text></g>
<g id="N019"><polygon class="n arc" stroke-width="5" points="964.1,327 993.9,327 1015,348.1 1015,377.9 993.9,399 964.1,399 943,377.9 943,348.1"/><text class="ta" x="979" y="377.5">N019</text></g>
<g id="N033"><polygon class="n sar" stroke-width="6" points="860.8,453 887.2,453 906,471.8 906,498.2 887.2,517 860.8,517 842,498.2 842,471.8"/><text class="ta" x="874" y="499.5">N033</text></g>
<g id="N030"><polygon class="n sar" stroke-width="6" points="609.1,526 648.9,526 677,554.1 677,593.9 648.9,622 609.1,622 581,593.9 581,554.1"/><text class="ta" x="629" y="588.5">N030</text></g>
<g id="N027"><polygon class="n opi" stroke-width="2" points="807.6,716 832.4,716 850,733.6 850,758.4 832.4,776 807.6,776 790,758.4 790,733.6"/><text class="ta" x="820" y="760.5">N027</text></g>
<g id="N023"><polygon class="n hap" stroke-width="3" points="1224.4,10 1305.6,10 1363,67.4 1363,148.6 1305.6,206 1224.4,206 1167,148.6 1167,67.4"/><text class="ta" x="1265" y="122.5">N023</text></g>
<g id="N034"><polygon class="n sar" stroke-width="2.5" points="1090,182 1186,182 1254,250 1254,346 1186,414 1090,414 1022,346 1022,250"/><text class="ta" x="1138" y="312.5">N034</text></g>
<g id="N022"><polygon class="n cry" stroke-width="8" points="1559.6,120 1652.4,120 1718,185.6 1718,278.4 1652.4,344 1559.6,344 1494,278.4 1494,185.6"/><text class="ta" x="1606" y="246.5">N022</text></g>
<g id="N029"><polygon class="n sar" stroke-width="8" points="1670.7,406 1735.3,406 1781,451.7 1781,516.3 1735.3,562 1670.7,562 1625,516.3 1625,451.7"/><text class="ta" x="1703" y="498.5">N029</text></g>
<g id="N026"><polygon class="n opi" stroke-width="2" points="1159.5,451 1202.5,451 1233,481.5 1233,524.5 1202.5,555 1159.5,555 1129,524.5 1129,481.5"/><text class="ta" x="1181" y="517.5">N026</text></g>
<g id="N025"><polygon class="n opi" stroke-width="2" points="1247.3,555 1298.7,555 1335,591.3 1335,642.7 1298.7,679 1247.3,679 1211,642.7 1211,591.3"/><text class="ta" x="1273" y="631.5">N025</text></g>
<g id="N028"><polygon class="n sar" stroke-width="2" points="1046,594 1070,594 1087,611 1087,635 1070,652 1046,652 1029,635 1029,611"/><text class="ta" x="1058" y="637.5">N028</text></g>
<g id="N006"><circle class="n bac" cx="640" cy="278" r="27" stroke-width="10"/><text class="ta" x="640" y="292.5">N006</text></g>
<g id="N011"><circle class="n pro" cx="750" cy="327" r="23.5" stroke-width="13"/><text class="ta" x="750" y="341.5">N011</text></g>
<g id="N004"><circle class="n act" cx="481" cy="339" r="35.5" stroke-width="3"/><text class="ta" x="481" y="353.5">N004</text></g>
<g id="N014"><circle class="n pro" cx="606" cy="383" r="32.5" stroke-width="15"/><text class="ta" x="606" y="397.5">N014</text></g>
<g id="N007"><circle class="n bac" cx="856" cy="384" r="23.5" stroke-width="11"/><text class="ta" x="856" y="398.5">N007</text></g>
<g id="N005"><circle class="n act" cx="735" cy="422" r="23.5" stroke-width="17"/><text class="ta" x="735" y="436.5">N005</text></g>
<g id="N017"><circle class="n ver" cx="561" cy="486" r="24" stroke-width="6"/><text class="ta" x="561" y="500.5">N017</text></g>
<g id="N008"><circle class="n bac" cx="749" cy="502" r="24" stroke-width="10"/><text class="ta" x="749" y="516.5">N008</text></g>
<g id="N015"><circle class="n pro" cx="482" cy="587" r="36" stroke-width="2"/><text class="ta" x="482" y="601.5">N015</text></g>
<g id="N016"><circle class="n pro" cx="569" cy="666" r="26.8" stroke-width="2.5"/><text class="ta" x="569" y="680.5">N016</text></g>
<g id="N012"><circle class="n pro" cx="837" cy="633" r="24.5" stroke-width="3"/><text class="ta" x="837" y="647.5">N012</text></g>
<g id="N018"><circle class="n ver" cx="1037" cy="74" r="28.5" stroke-width="3"/><text class="ta" x="1037" y="88.5">N018</text></g>
<g id="N013"><circle class="n pro" cx="1094" cy="742" r="29" stroke-width="2"/><text class="ta" x="1094" y="756.5">N013</text></g>
<g id="N010"><circle class="n bac" cx="1336" cy="305" r="30.5" stroke-width="21"/><text class="ta" x="1336" y="319.5">N010</text></g>
<g id="N002"><circle class="n act" cx="1415" cy="390" r="21" stroke-width="14"/><text class="ta" x="1415" y="404.5">N002</text></g>
<g id="N003"><circle class="n act" cx="1500" cy="452" r="29" stroke-width="20"/><text class="ta" x="1500" y="466.5">N003</text></g>
<g id="N001"><circle class="n act" cx="1346" cy="490" r="28.5" stroke-width="17"/><text class="ta" x="1346" y="504.5">N001</text></g>
<g id="N009"><circle class="n bac" cx="1484" cy="598" r="22.5" stroke-width="10"/><text class="ta" x="1484" y="612.5">N009</text></g>
</g>

<g id="annotations-A">
<text class="gl" font-size="44" transform="translate(575 318) rotate(-55)" x="0" y="15">G1</text>
<text class="gl" font-size="48" x="1296" y="428">G2</text>
<polygon points="834,164 845,171 856,164 845,190" fill="#1aa0e6"/>
<polygon points="906,519 931,527 919,532 915,544" fill="#1aa0e6"/>
</g>

<g id="nodes-B">
<g id="N063"><circle class="n bac" cx="291" cy="994" r="26" stroke-width="4"/><text class="tb" x="291" y="1001.6">N063</text></g>
<g id="N109"><circle class="n pro" cx="404" cy="1010" r="33" stroke-width="4"/><text class="tb" x="404" y="1017.6">N109</text></g>
<g id="N110"><circle class="n pro" cx="488" cy="1011" r="15" stroke-width="2"/><text class="tb" x="488" y="1018.6">N110</text></g>
<g id="N080"><circle class="n pla" cx="343" cy="1034" r="22.5" stroke-width="5"/><text class="tb" x="343" y="1041.6">N080</text></g>
<g id="N112"><circle class="n pro" cx="287" cy="1049" r="16.5" stroke-width="3"/><text class="tb" x="287" y="1056.6">N112</text></g>
<g id="N095"><circle class="n pro" cx="500" cy="1051" r="14.2" stroke-width="1.5"/><text class="tb" x="500" y="1058.6">N095</text></g>
<g id="N086"><circle class="n pro" cx="259" cy="1084" r="12.5" stroke-width="3"/><text class="tb" x="259" y="1091.6">N086</text></g>
<g id="N050"><circle class="n bac" cx="384" cy="1081" r="13.5" stroke-width="5"/><text class="tb" x="384" y="1088.6">N050</text></g>
<g id="N045"><circle class="n act" cx="453" cy="1082" r="14" stroke-width="4"/><text class="tb" x="453" y="1089.6">N045</text></g>
<g id="N048"><circle class="n act" cx="314" cy="1141" r="42.5" stroke-width="5"/><text class="tb" x="314" y="1148.6">N048</text></g>
<g id="N098"><circle class="n pro" cx="405" cy="1141" r="15" stroke-width="2"/><text class="tb" x="405" y="1148.6">N098</text></g>
<g id="N084"><circle class="n pro" cx="477" cy="1120" r="15.5" stroke-width="3"/><text class="tb" x="477" y="1127.6">N084</text></g>
<g id="N121"><circle class="n ver" cx="506" cy="1162" r="16.2" stroke-width="1.5"/><text class="tb" x="506" y="1169.6">N121</text></g>
<g id="N037"><circle class="n act" cx="506" cy="1261" r="17" stroke-width="2"/><text class="tb" x="506" y="1268.6">N037</text></g>
<g id="N077"><circle class="n pla" cx="416" cy="1274" r="16" stroke-width="2"/><text class="tb" x="416" y="1281.6">N077</text></g>
<g id="N118"><circle class="n bac" cx="355" cy="1299" r="11" stroke-width="6"/><text class="tb" x="355" y="1306.6">N118</text></g>
<g id="N078"><circle class="n pla" cx="458" cy="1304" r="16" stroke-width="2"/><text class="tb" x="458" y="1311.6">N078</text></g>
<g id="N060"><circle class="n bac" cx="289" cy="1315" r="26" stroke-width="4"/><text class="tb" x="289" y="1322.6">N060</text></g>
<g id="N091"><circle class="n pro" cx="423" cy="1330" r="14.5" stroke-width="3"/><text class="tb" x="423" y="1337.6">N091</text></g>
<g id="N117"><circle class="n ver" cx="506" cy="1375" r="38.5" stroke-width="7"/><text class="tb" x="506" y="1382.6">N117</text></g>
<g id="N088"><circle class="n pro" cx="307" cy="1370" r="11.5" stroke-width="3"/><text class="tb" x="307" y="1377.6">N088</text></g>
<g id="N111"><circle class="n pro" cx="378" cy="1381" r="35.5" stroke-width="5"/><text class="tb" x="378" y="1388.6">N111</text></g>
<g id="N064"><circle class="n bac" cx="224" cy="1406" r="37" stroke-width="4"/><text class="tb" x="224" y="1413.6">N064</text></g>
<g id="N071"><circle class="n bac" cx="302" cy="1418" r="23.5" stroke-width="7"/><text class="tb" x="302" y="1425.6">N071</text></g>
<g id="N090"><circle class="n pro" cx="429" cy="1424" r="13" stroke-width="6"/><text class="tb" x="429" y="1431.6">N090</text></g>
<g id="N094"><circle class="n pro" cx="362" cy="1446" r="17.5" stroke-width="7"/><text class="tb" x="362" y="1453.6">N094</text></g>
<g id="N052"><circle class="n bac" cx="498" cy="1456" r="16" stroke-width="2"/><text class="tb" x="498" y="1463.6">N052</text></g>
<g id="N039"><circle class="n act" cx="480" cy="1490" r="15" stroke-width="2"/><text class="tb" x="480" y="1497.6">N039</text></g>
<g id="N101"><circle class="n pro" cx="398" cy="1508" r="34.5" stroke-width="5"/><text class="tb" x="398" y="1515.6">N101</text></g>
<g id="N100"><circle class="n pro" cx="640" cy="1364" r="41.2" stroke-width="1.5"/><text class="tb" x="640" y="1371.6">N100</text></g>
<g id="N051"><circle class="n bac" cx="718" cy="1411" r="33" stroke-width="2"/><text class="tb" x="718" y="1418.6">N051</text></g>
<g id="N085"><circle class="n pro" cx="643" cy="1436" r="19.5" stroke-width="3"/><text class="tb" x="643" y="1443.6">N085</text></g>
<g id="N089"><circle class="n pro" cx="579" cy="1481" r="38" stroke-width="2"/><text class="tb" x="579" y="1488.6">N089</text></g>
<g id="N043"><circle class="n act" cx="668" cy="1492" r="29" stroke-width="2"/><text class="tb" x="668" y="1499.6">N043</text></g>
<g id="N047"><circle class="bac" cx="285" cy="1523" r="2"/><text class="tb" x="264" y="1534.6">N047</text></g>
<g id="N053"><circle class="n bac" cx="344" cy="1568" r="17" stroke-width="2"/><text class="tb" x="344" y="1575.6">N053</text></g>
<g id="N049"><circle class="n act" cx="856" cy="899" r="14.2" stroke-width="1.5"/><text class="tb" x="856" y="906.6">N049</text></g>
<g id="N056"><circle class="n bac" cx="906" cy="936" r="24" stroke-width="4"/><text class="tb" x="906" y="943.6">N056</text></g>
<g id="N055"><circle class="n bac" cx="992" cy="924" r="14" stroke-width="2"/><text class="tb" x="992" y="931.6">N055</text></g>
<g id="N059"><circle class="n bac" cx="838" cy="964" r="12.5" stroke-width="3"/><text class="tb" x="838" y="971.6">N059</text></g>
<g id="N103"><circle class="n pro" cx="789" cy="973" r="12.5" stroke-width="3"/><text class="tb" x="789" y="980.6">N103</text></g>
<g id="N099"><circle class="n pro" cx="753" cy="1007" r="14" stroke-width="2"/><text class="tb" x="753" y="1014.6">N099</text></g>
<g id="N058"><circle class="n bac" cx="800" cy="1027" r="11" stroke-width="6"/><text class="tb" x="800" y="1034.6">N058</text></g>
<g id="N092"><circle class="n pro" cx="950" cy="1015" r="17" stroke-width="4"/><text class="tb" x="950" y="1022.6">N092</text></g>
<g id="N046"><circle class="n act" cx="1095" cy="986" r="11.2" stroke-width="1.5"/><text class="tb" x="1095" y="993.6">N046</text></g>
<g id="N054"><circle class="n bac" cx="1045" cy="1039" r="34" stroke-width="6"/><text class="tb" x="1045" y="1046.6">N054</text></g>
<g id="N079"><circle class="n pla" cx="1178" cy="1020" r="19" stroke-width="2"/><text class="tb" x="1178" y="1027.6">N079</text></g>
<g id="N065"><circle class="n bac" cx="675" cy="1064" r="20.5" stroke-width="7"/><text class="tb" x="675" y="1071.6">N065</text></g>
<g id="N096"><circle class="n pro" cx="740" cy="1063" r="24.5" stroke-width="7"/><text class="tb" x="740" y="1070.6">N096</text></g>
<g id="N042"><circle class="n act" cx="827" cy="1063" r="12.5" stroke-width="7"/><text class="tb" x="827" y="1070.6">N042</text></g>
<g id="N044"><circle class="n act" cx="898" cy="1057" r="32" stroke-width="8"/><text class="tb" x="898" y="1064.6">N044</text></g>
<g id="N062"><circle class="n bac" cx="791" cy="1097" r="22" stroke-width="6"/><text class="tb" x="791" y="1104.6">N062</text></g>
<g id="N040"><circle class="n act" cx="849" cy="1124" r="29.5" stroke-width="9"/><text class="tb" x="849" y="1131.6">N040</text></g>
<g id="N067"><circle class="n bac" cx="908" cy="1129" r="12.5" stroke-width="5"/><text class="tb" x="908" y="1136.6">N067</text></g>
<g id="N113"><circle class="n pro" cx="964" cy="1101" r="13.5" stroke-width="7"/><text class="tb" x="964" y="1108.6">N113</text></g>
<g id="N105"><circle class="n pro" cx="1027" cy="1106" r="22" stroke-width="6"/><text class="tb" x="1027" y="1113.6">N105</text></g>
<g id="N075"><circle class="n chf" cx="1154" cy="1115" r="15.5" stroke-width="3"/><text class="tb" x="1154" y="1122.6">N075</text></g>
<g id="N066"><circle class="n bac" cx="647" cy="1150" r="12.5" stroke-width="5"/><text class="tb" x="647" y="1157.6">N066</text></g>
<g id="N102"><circle class="n pro" cx="717" cy="1151" r="12" stroke-width="6"/><text class="tb" x="717" y="1158.6">N102</text></g>
<g id="N116"><circle class="n ver" cx="784" cy="1143" r="18" stroke-width="8"/><text class="tb" x="784" y="1150.6">N116</text></g>
<g id="N070"><circle class="n bac" cx="939" cy="1165" r="12" stroke-width="8"/><text class="tb" x="939" y="1172.6">N070</text></g>
<g id="N107"><circle class="n pro" cx="997" cy="1154" r="12" stroke-width="8"/><text class="tb" x="997" y="1161.6">N107</text></g>
<g id="N114"><circle class="n bac" cx="1127" cy="1156" r="16" stroke-width="8"/><text class="tb" x="1127" y="1163.6">N114</text></g>
<g id="N097"><circle class="n pro" cx="587" cy="1176" r="13" stroke-width="2"/><text class="tb" x="587" y="1183.6">N097</text></g>
<g id="N083"><circle class="n pro" cx="633" cy="1199" r="12.5" stroke-width="3"/><text class="tb" x="633" y="1206.6">N083</text></g>
<g id="N104"><circle class="n pro" cx="702" cy="1216" r="22.5" stroke-width="9"/><text class="tb" x="702" y="1223.6">N104</text></g>
<g id="N076"><circle class="n gem" cx="773" cy="1204" r="11" stroke-width="6"/><text class="tb" x="773" y="1211.6">N076</text></g>
<g id="N072"><circle class="n bac" cx="847" cy="1198" r="30.5" stroke-width="9"/><text class="tb" x="847" y="1205.6">N072</text></g>
<g id="N106"><circle class="n pro" cx="920" cy="1215" r="14.5" stroke-width="9"/><text class="tb" x="920" y="1222.6">N106</text></g>
<g id="N035"><circle class="n act" cx="1045" cy="1195" r="23" stroke-width="8"/><text class="tb" x="1045" y="1202.6">N035</text></g>
<g id="N036"><circle class="n act" cx="993" cy="1224" r="15" stroke-width="8"/><text class="tb" x="993" y="1231.6">N036</text></g>
<g id="N119"><circle class="n ver" cx="1103" cy="1213" r="18" stroke-width="6"/><text class="tb" x="1103" y="1220.6">N119</text></g>
<g id="N081"><circle class="n pla" cx="1188" cy="1219" r="15.5" stroke-width="3"/><text class="tb" x="1188" y="1226.6">N081</text></g>
<g id="N073"><circle class="n bac" cx="615" cy="1240" r="12" stroke-width="2"/><text class="tb" x="615" y="1247.6">N073</text></g>
<g id="N057"><circle class="n bac" cx="847" cy="1266" r="22" stroke-width="8"/><text class="tb" x="847" y="1273.6">N057</text></g>
<g id="N087"><circle class="n pro" cx="930" cy="1253" r="10.5" stroke-width="9"/><text class="tb" x="930" y="1260.6">N087</text></g>
<g id="N041"><circle class="n act" cx="1021" cy="1266" r="11" stroke-width="8"/><text class="tb" x="1021" y="1273.6">N041</text></g>
<g id="N120"><circle class="n ver" cx="1091" cy="1268" r="12.5" stroke-width="9"/><text class="tb" x="1091" y="1275.6">N120</text></g>
<g id="N038"><circle class="n act" cx="774" cy="1283" r="20" stroke-width="2"/><text class="tb" x="774" y="1290.6">N038</text></g>
<g id="N082"><circle class="n pro" cx="1227" cy="1286" r="18" stroke-width="2"/><text class="tb" x="1227" y="1293.6">N082</text></g>
<g id="N068"><circle class="n bac" cx="919" cy="1306" r="11" stroke-width="8"/><text class="tb" x="919" y="1313.6">N068</text></g>
<g id="N115"><circle class="n bac" cx="994" cy="1315" r="11" stroke-width="6"/><text class="tb" x="994" y="1322.6">N115</text></g>
<g id="N108"><circle class="n pro" cx="1055" cy="1332" r="20.5" stroke-width="7"/><text class="tb" x="1055" y="1339.6">N108</text></g>
<g id="N074"><circle class="n chb" cx="1142" cy="1306" r="17" stroke-width="8"/><text class="tb" x="1142" y="1313.6">N074</text></g>
<g id="N093"><circle class="n pro" cx="840" cy="1350" r="13.5" stroke-width="3"/><text class="tb" x="840" y="1357.6">N093</text></g>
<g id="N069"><circle class="n bac" cx="962" cy="1382" r="35.5" stroke-width="11"/><text class="tb" x="962" y="1389.6">N069</text></g>
<g id="N061"><circle class="n bac" cx="1101" cy="1385" r="21" stroke-width="2"/><text class="tb" x="1101" y="1392.6">N061</text></g>
</g>

<g id="nodes-C">
<g id="N122"><circle class="n act" cx="1640" cy="1127" r="25" stroke-width="6"/><text class="tc" x="1640" y="1142.6">N122</text></g>
<g id="N138"><circle class="n ver" cx="1800" cy="1133" r="36" stroke-width="8"/><text class="tc" x="1800" y="1148.6">N138</text></g>
<g id="N132"><circle class="n pro" cx="1608" cy="1219" r="24" stroke-width="8"/><text class="tc" x="1608" y="1234.6">N132</text></g>
<g id="N133"><circle class="n pro" cx="1859" cy="1234" r="31.5" stroke-width="7"/><text class="tc" x="1859" y="1249.6">N133</text></g>
<g id="N139"><circle class="n ver" cx="1709" cy="1287" r="27" stroke-width="8"/><text class="tc" x="1709" y="1302.6">N139</text></g>
<g id="N128"><circle class="n bac" cx="1821" cy="1321" r="26" stroke-width="6"/><text class="tc" x="1821" y="1336.6">N128</text></g>
<g id="N123"><circle class="n act" cx="1578" cy="1336" r="28.5" stroke-width="5"/><text class="tc" x="1578" y="1351.6">N123</text></g>
<g id="N124"><circle class="n bac" cx="1730" cy="1399" r="53.5" stroke-width="3"/><text class="tc" x="1730" y="1414.6">N124</text></g>
<g id="N127"><circle class="n bac" cx="1985" cy="1133" r="28.5" stroke-width="5"/><text class="tc" x="1985" y="1148.6">N127</text></g>
<g id="N131"><circle class="n pla" cx="2147" cy="1066" r="33.5" stroke-width="5"/><text class="tc" x="2147" y="1081.6">N131</text></g>
<g id="N135"><circle class="n pro" cx="2114" cy="1164" r="29" stroke-width="4"/><text class="tc" x="2114" y="1179.6">N135</text></g>
<g id="N136"><circle class="n pro" cx="2235" cy="1142" r="31.5" stroke-width="3"/><text class="tc" x="2235" y="1157.6">N136</text></g>
<g id="N137"><circle class="n pro" cx="2166" cy="1242" r="31.5" stroke-width="7"/><text class="tc" x="2166" y="1257.6">N137</text></g>
<g id="N130"><circle class="n bac" cx="2023" cy="1262" r="26.5" stroke-width="5"/><text class="tc" x="2023" y="1277.6">N130</text></g>
<g id="N134"><circle class="n pro" cx="2054" cy="1352" r="32" stroke-width="2"/><text class="tc" x="2054" y="1367.6">N134</text></g>
<g id="N129"><circle class="n bac" cx="1995" cy="1431" r="26.5" stroke-width="3"/><text class="tc" x="1995" y="1446.6">N129</text></g>
<g id="N126"><circle class="n bac" cx="2212" cy="1358" r="30" stroke-width="2"/><text class="tc" x="2212" y="1373.6">N126</text></g>
<g id="N125"><circle class="n bac" cx="2190" cy="1464" r="32" stroke-width="2"/><text class="tc" x="2190" y="1479.6">N125</text></g>
</g>

<g id="nodes-D">
<g id="N154"><polygon class="n arc" stroke-width="5" points="414.8,1729 441.2,1729 460,1747.8 460,1774.2 441.2,1793 414.8,1793 396,1774.2 396,1747.8"/><text class="td" x="428" y="1776">N154</text></g>
<g id="N157"><polygon class="n sar" stroke-width="5" points="126.1,1883 141.9,1883 153,1894.1 153,1909.9 141.9,1921 126.1,1921 115,1909.9 115,1894.1"/><text class="td" x="134" y="1917">N157</text></g>
<g id="N155"><polygon class="n opi" stroke-width="2" points="436.6,2197 461.4,2197 479,2214.6 479,2239.4 461.4,2257 436.6,2257 419,2239.4 419,2214.6"/><text class="td" x="449" y="2242">N155</text></g>
<g id="N156"><polygon class="n opi" stroke-width="2" points="334.1,2273 353.9,2273 368,2287.1 368,2306.9 353.9,2321 334.1,2321 320,2306.9 320,2287.1"/><text class="td" x="344" y="2312">N156</text></g>
<g id="N149"><circle class="n pro" cx="240" cy="1805" r="24.5" stroke-width="7"/><text class="td" x="240" y="1820">N149</text></g>
<g id="N153"><circle class="n pro" cx="367" cy="1825" r="20" stroke-width="10"/><text class="td" x="367" y="1840">N153</text></g>
<g id="N150"><circle class="n pro" cx="521" cy="1850" r="17" stroke-width="2"/><text class="td" x="521" y="1865">N150</text></g>
<g id="N152"><circle class="n pro" cx="416" cy="1888" r="13" stroke-width="10"/><text class="td" x="416" y="1903">N152</text></g>
<g id="N144"><circle class="n bac" cx="283" cy="1944" r="45" stroke-width="8"/><text class="td" x="283" y="1959">N144</text></g>
<g id="N148"><circle class="n pla" cx="512" cy="1930" r="22" stroke-width="6"/><text class="td" x="512" y="1945">N148</text></g>
<g id="N140"><circle class="n act" cx="397" cy="1970" r="15.5" stroke-width="11"/><text class="td" x="397" y="1985">N140</text></g>
<g id="N142"><circle class="n act" cx="470" cy="1997" r="16" stroke-width="10"/><text class="td" x="470" y="2012">N142</text></g>
<g id="N147"><circle class="n chb" cx="235" cy="2028" r="27" stroke-width="10"/><text class="td" x="235" y="2043">N147</text></g>
<g id="N146"><circle class="n bac" cx="356" cy="2020" r="23" stroke-width="8"/><text class="td" x="356" y="2035">N146</text></g>
<g id="N141"><circle class="n act" cx="239" cy="2110" r="42" stroke-width="4"/><text class="td" x="239" y="2125">N141</text></g>
<g id="N151"><circle class="n pro" cx="494" cy="2091" r="27.5" stroke-width="7"/><text class="td" x="494" y="2106">N151</text></g>
<g id="N145"><circle class="n bac" cx="378" cy="2142" r="18" stroke-width="8"/><text class="td" x="378" y="2157">N145</text></g>
<g id="N143"><circle class="n bac" cx="338" cy="2187" r="15" stroke-width="2"/><text class="td" x="338" y="2202">N143</text></g>
</g>

<g id="nodes-E">
<g id="N225"><polygon class="n opi" stroke-width="2" points="1298.5,2251 1317.5,2251 1331,2264.5 1331,2283.5 1317.5,2297 1298.5,2297 1285,2283.5 1285,2264.5"/><text class="te" x="1308" y="2286">N225</text></g>
<g id="N198"><polygon class="n opi" stroke-width="2" points="1217.1,2309 1232.9,2309 1244,2320.1 1244,2335.9 1232.9,2347 1217.1,2347 1206,2335.9 1206,2320.1"/><text class="te" x="1225" y="2340">N198</text></g>
<g id="N215"><polygon class="n arc" stroke-width="4" points="2075.1,2217 2094.9,2217 2109,2231.1 2109,2250.9 2094.9,2265 2075.1,2265 2061,2250.9 2061,2231.1"/><text class="te" x="2085" y="2253">N215</text></g>
<g id="N222"><polygon class="n sar" stroke-width="2" points="1970.1,2240 1985.9,2240 1997,2251.1 1997,2266.9 1985.9,2278 1970.1,2278 1959,2266.9 1959,2251.1"/><text class="te" x="1978" y="2271">N222</text></g>
<g id="N172"><circle class="n pro" cx="1077" cy="1664" r="14" stroke-width="2"/><text class="te" x="1077" y="1676">N172</text></g>
<g id="N203"><circle class="n bac" cx="1204" cy="1717" r="16" stroke-width="2"/><text class="te" x="1204" y="1729">N203</text></g>
<g id="N180"><circle class="n ver" cx="1153" cy="1771" r="9.5" stroke-width="1"/><text class="te" x="1153" y="1783">N180</text></g>
<g id="N173"><circle class="n bac" cx="1244" cy="1784" r="12" stroke-width="2"/><text class="te" x="1244" y="1796">N173</text></g>
<g id="N204"><circle class="n pro" cx="1067" cy="1798" r="15" stroke-width="2"/><text class="te" x="1067" y="1810">N204</text></g>
<g id="N219"><circle class="n bac" cx="1219" cy="1844" r="11" stroke-width="6"/><text class="te" x="1219" y="1856">N219</text></g>
<g id="N177"><circle class="n bac" cx="1106" cy="1858" r="19.5" stroke-width="3"/><text class="te" x="1106" y="1870">N177</text></g>
<g id="N218"><circle class="n bac" cx="1323" cy="1901" r="53" stroke-width="6"/><text class="te" x="1323" y="1913">N218</text></g>
<g id="N166"><circle class="n bac" cx="1062" cy="1897" r="14.5" stroke-width="3"/><text class="te" x="1062" y="1909">N166</text></g>
<g id="N226"><circle class="n chf" cx="1182" cy="1917" r="14" stroke-width="6"/><text class="te" x="1182" y="1929">N226</text></g>
<g id="N221"><circle class="n pro" cx="1074" cy="1950" r="14.5" stroke-width="5"/><text class="te" x="1074" y="1962">N221</text></g>
<g id="N181"><circle class="n bac" cx="1235" cy="1963" r="20" stroke-width="6"/><text class="te" x="1235" y="1975">N181</text></g>
<g id="N197"><circle class="n atr" cx="999" cy="1986" r="16" stroke-width="6"/><text class="te" x="999" y="1998">N197</text></g>
<g id="N196"><circle class="n bac" cx="1110" cy="1984" r="15" stroke-width="4"/><text class="te" x="1110" y="1996">N196</text></g>
<g id="N228"><circle class="n bac" cx="1343" cy="2008" r="18" stroke-width="6"/><text class="te" x="1343" y="2020">N228</text></g>
<g id="N187"><circle class="n act" cx="1152" cy="2025" r="24" stroke-width="6"/><text class="te" x="1152" y="2037">N187</text></g>
<g id="N200"><circle class="n bac" cx="1020" cy="2036" r="16" stroke-width="2"/><text class="te" x="1020" y="2048">N200</text></g>
<g id="N213"><circle class="n bac" cx="1264" cy="2043" r="10.5" stroke-width="5"/><text class="te" x="1264" y="2055">N213</text></g>
<g id="N208"><circle class="n act" cx="1079" cy="2080" r="13.5" stroke-width="3"/><text class="te" x="1079" y="2092">N208</text></g>
<g id="N227"><circle class="n bac" cx="1203" cy="2076" r="10.5" stroke-width="5"/><text class="te" x="1203" y="2088">N227</text></g>
<g id="N189"><circle class="n bac" cx="1302" cy="2094" r="15" stroke-width="4"/><text class="te" x="1302" y="2106">N189</text></g>
<g id="N199"><circle class="n bac" cx="995" cy="2110" r="23" stroke-width="2"/><text class="te" x="995" y="2122">N199</text></g>
<g id="N163"><circle class="n bac" cx="895" cy="2151" r="22.2" stroke-width="1.5"/><text class="te" x="895" y="2163">N163</text></g>
<g id="N175"><circle class="n act" cx="1181" cy="2156" r="18" stroke-width="6"/><text class="te" x="1181" y="2168">N175</text></g>
<g id="N209"><circle class="n pro" cx="910" cy="2236" r="15.2" stroke-width="1.5"/><text class="te" x="910" y="2248">N209</text></g>
<g id="N210"><circle class="n pla" cx="997" cy="2282" r="22.2" stroke-width="1.5"/><text class="te" x="997" y="2294">N210</text></g>
<g id="N162"><circle class="n bac" cx="907" cy="2323" r="16" stroke-width="2"/><text class="te" x="907" y="2335">N162</text></g>
<g id="N158"><circle class="n bac" cx="1095" cy="2318" r="34.2" stroke-width="1.5"/><text class="te" x="1095" y="2330">N158</text></g>
<g id="N220"><circle class="n bac" cx="1222" cy="2241" r="12.2" stroke-width="1.5"/><text class="te" x="1222" y="2253">N220</text></g>
<g id="N164"><circle class="n pro" cx="1407" cy="2233" r="12.2" stroke-width="1.5"/><text class="te" x="1407" y="2245">N164</text></g>
<g id="N165"><circle class="n bac" cx="1407" cy="2318" r="12.2" stroke-width="1.5"/><text class="te" x="1407" y="2330">N165</text></g>
<g id="N231"><circle class="n bac" cx="1941" cy="1709" r="15" stroke-width="2"/><text class="te" x="1941" y="1721">N231</text></g>
<g id="N232"><circle class="n pro" cx="1920" cy="1771" r="17.5" stroke-width="3"/><text class="te" x="1920" y="1783">N232</text></g>
<g id="N161"><circle class="n bac" cx="2037" cy="1800" r="13" stroke-width="2"/><text class="te" x="2037" y="1812">N161</text></g>
<g id="N159"><circle class="n pro" cx="2098" cy="1834" r="13" stroke-width="2"/><text class="te" x="2098" y="1846">N159</text></g>
<g id="N229"><circle class="n act" cx="1726" cy="1847" r="48.5" stroke-width="7"/><text class="te" x="1726" y="1859">N229</text></g>
<g id="N201"><circle class="n act" cx="1847" cy="1846" r="38" stroke-width="8"/><text class="te" x="1847" y="1858">N201</text></g>
<g id="N224"><circle class="n pro" cx="1958" cy="1859" r="36" stroke-width="8"/><text class="te" x="1958" y="1871">N224</text></g>
<g id="N179"><circle class="n act" cx="2093" cy="1877" r="15.5" stroke-width="7"/><text class="te" x="2093" y="1889">N179</text></g>
<g id="N233"><circle class="n fir" cx="1514" cy="1905" r="14" stroke-width="2"/><text class="te" x="1514" y="1917">N233</text></g>
<g id="N167"><circle class="n ver" cx="1652" cy="1907" r="11.2" stroke-width="1.5"/><text class="te" x="1652" y="1919">N167</text></g>
<g id="N190"><circle class="n pla" cx="1847" cy="1916" r="18.5" stroke-width="5"/><text class="te" x="1847" y="1928">N190</text></g>
<g id="N202"><circle class="n bac" cx="2001" cy="1907" r="21" stroke-width="6"/><text class="te" x="2001" y="1919">N202</text></g>
<g id="N176"><circle class="n bac" cx="2165" cy="1913" r="14" stroke-width="4"/><text class="te" x="2165" y="1925">N176</text></g>
<g id="N169"><circle class="n bac" cx="1588" cy="1947" r="17" stroke-width="2"/><text class="te" x="1588" y="1959">N169</text></g>
<g id="N182"><circle class="n act" cx="1721" cy="1941" r="22" stroke-width="6"/><text class="te" x="1721" y="1953">N182</text></g>
<g id="N168"><circle class="n act" cx="2098" cy="1939" r="10" stroke-width="2"/><text class="te" x="2098" y="1951">N168</text></g>
<g id="N211"><circle class="n act" cx="2055" cy="1962" r="10" stroke-width="6"/><text class="te" x="2055" y="1974">N211</text></g>
<g id="N216"><circle class="n bac" cx="1511" cy="1984" r="14" stroke-width="2"/><text class="te" x="1511" y="1996">N216</text></g>
<g id="N195"><circle class="n act" cx="1883" cy="1977" r="29.5" stroke-width="7"/><text class="te" x="1883" y="1989">N195</text></g>
<g id="N188"><circle class="n bac" cx="1959" cy="1981" r="32" stroke-width="8"/><text class="te" x="1959" y="1993">N188</text></g>
<g id="N212"><circle class="n pro" cx="2098" cy="1989" r="12.5" stroke-width="3"/><text class="te" x="2098" y="2001">N212</text></g>
<g id="N174"><circle class="n pro" cx="2172" cy="1989" r="13.2" stroke-width="1.5"/><text class="te" x="2172" y="2001">N174</text></g>
<g id="N230"><circle class="n act" cx="1733" cy="1996" r="20" stroke-width="6"/><text class="te" x="1733" y="2008">N230</text></g>
<g id="N205"><circle class="n bac" cx="1803" cy="2014" r="38" stroke-width="8"/><text class="te" x="1803" y="2026">N205</text></g>
<g id="N234"><circle class="n pro" cx="1608" cy="2016" r="18.5" stroke-width="5"/><text class="te" x="1608" y="2028">N234</text></g>
<g id="N185"><circle class="n act" cx="2037" cy="2023" r="12" stroke-width="6"/><text class="te" x="2037" y="2035">N185</text></g>
<g id="N178"><circle class="n pla" cx="1730" cy="2046" r="13.5" stroke-width="3"/><text class="te" x="1730" y="2058">N178</text></g>
<g id="N184"><circle class="n chb" cx="1884" cy="2046" r="24" stroke-width="8"/><text class="te" x="1884" y="2058">N184</text></g>
<g id="N194"><circle class="n pro" cx="1976" cy="2056" r="11" stroke-width="6"/><text class="te" x="1976" y="2068">N194</text></g>
<g id="N171"><circle class="n act" cx="1497" cy="2094" r="18" stroke-width="2"/><text class="te" x="1497" y="2106">N171</text></g>
<g id="N217"><circle class="n bac" cx="1662" cy="2081" r="21" stroke-width="4"/><text class="te" x="1662" y="2093">N217</text></g>
<g id="N186"><circle class="n act" cx="1929" cy="2083" r="13" stroke-width="6"/><text class="te" x="1929" y="2095">N186</text></g>
<g id="N223"><circle class="n pro" cx="2070" cy="2088" r="16" stroke-width="6"/><text class="te" x="2070" y="2100">N223</text></g>
<g id="N193"><circle class="n act" cx="2154" cy="2109" r="35" stroke-width="4"/><text class="te" x="2154" y="2121">N193</text></g>
<g id="N206"><circle class="n bac" cx="1845" cy="2103" r="21" stroke-width="6"/><text class="te" x="1845" y="2115">N206</text></g>
<g id="N207"><circle class="n pro" cx="1978" cy="2132" r="22" stroke-width="6"/><text class="te" x="1978" y="2144">N207</text></g>
<g id="N170"><circle class="n wch" cx="1658" cy="2143" r="15" stroke-width="2"/><text class="te" x="1658" y="2155">N170</text></g>
<g id="N191"><circle class="n bac" cx="1838" cy="2150" r="17" stroke-width="4"/><text class="te" x="1838" y="2162">N191</text></g>
<g id="N214"><circle class="n pla" cx="1997" cy="2184" r="17" stroke-width="4"/><text class="te" x="1997" y="2196">N214</text></g>
<g id="N183"><circle class="n pro" cx="2148" cy="2203" r="14" stroke-width="2"/><text class="te" x="2148" y="2215">N183</text></g>
<g id="N192"><circle class="n pro" cx="1869" cy="2217" r="21.5" stroke-width="5"/><text class="te" x="1869" y="2229">N192</text></g>
<g id="N160"><circle class="n act" cx="1616" cy="2277" r="24" stroke-width="2"/><text class="te" x="1616" y="2289">N160</text></g>
</g>

<g id="legend">
<g id="leg-actinobacteria"><ellipse class="act lc" cx="38" cy="2442" rx="30" ry="31"/><text class="lg" x="92" y="2452">Actinobacteria</text></g>
<g id="leg-atribacteria"><ellipse class="atr lc" cx="38" cy="2522" rx="30" ry="31"/><text class="lg" x="92" y="2532">Atribacteria</text></g>
<g id="leg-bacteroidetes"><ellipse class="bac lc" cx="38" cy="2604" rx="30" ry="31"/><text class="lg" x="92" y="2614">Bacteroidetes</text></g>
<g id="leg-sr1"><ellipse class="sr1 lc" cx="383" cy="2442" rx="30" ry="31"/><text class="lg" x="436" y="2452">Candidate division SR1</text></g>
<g id="leg-chlorobi"><ellipse class="chb lc" cx="383" cy="2522" rx="30" ry="31"/><text class="lg" x="436" y="2532">Chlorobi</text></g>
<g id="leg-chloroflexi"><ellipse class="chf lc" cx="383" cy="2603" rx="30" ry="31"/><text class="lg" x="436" y="2614">Chloroflexi</text></g>
<g id="leg-cryptophyceae"><ellipse class="cry lc" cx="868" cy="2442" rx="30" ry="31"/><text class="lg" x="918" y="2452">Cryptophyceae</text></g>
<g id="leg-firmicutes"><ellipse class="fir lc" cx="868" cy="2523" rx="30" ry="31"/><text class="lg" x="918" y="2532">Firmicutes</text></g>
<g id="leg-gemmatimonadetes"><ellipse class="gem lc" cx="868" cy="2604" rx="30" ry="31"/><text class="lg" x="918" y="2614">Gemmatimonadetes</text></g>
<g id="leg-parcubacteria"><ellipse class="par lc" cx="1308" cy="2436" rx="30" ry="31"/><text class="lg" x="1361" y="2447">Parcubacteria</text></g>
<g id="leg-planctomycetes"><ellipse class="pla lc" cx="1308" cy="2516" rx="30" ry="31"/><text class="lg" x="1361" y="2527">Planctomycetes</text></g>
<g id="leg-proteobacteria"><ellipse class="pro lc" cx="1308" cy="2597" rx="30" ry="31"/><text class="lg" x="1361" y="2608">Proteobacteria</text></g>
<g id="leg-verrucomicrobia"><ellipse class="ver lc" cx="1687" cy="2437" rx="30" ry="31"/><text class="lg" x="1743" y="2447">Verrucomicrobia</text></g>
<g id="leg-wchb"><ellipse class="wch lc" cx="1687" cy="2517" rx="30" ry="31"/><text class="lg" x="1743" y="2527">WCHB1-60</text></g>
<g id="leg-archaeplastida"><polygon class="arc lc" points="1657,2596 1673,2567 1709,2567 1725,2596 1709,2625 1673,2625"/><text class="lg" x="1743" y="2603">Archaeplastida</text></g>
<g id="leg-haptophyta"><polygon class="hap lc" points="2037,2434 2053,2405 2089,2405 2105,2434 2089,2463 2053,2463"/><text class="lg" x="2120" y="2438">Haptophyta</text></g>
<g id="leg-opisthokonta"><polygon class="opi lc" points="2037,2510 2053,2481 2089,2481 2105,2510 2089,2539 2053,2539"/><text class="lg" x="2120" y="2518">Opisthokonta</text></g>
<g id="leg-sar"><polygon class="sar lc" points="2037,2587 2053,2558 2089,2558 2105,2587 2089,2616 2053,2616"/><text class="lg" x="2120" y="2598">SAR</text></g>
</g>
</svg>
